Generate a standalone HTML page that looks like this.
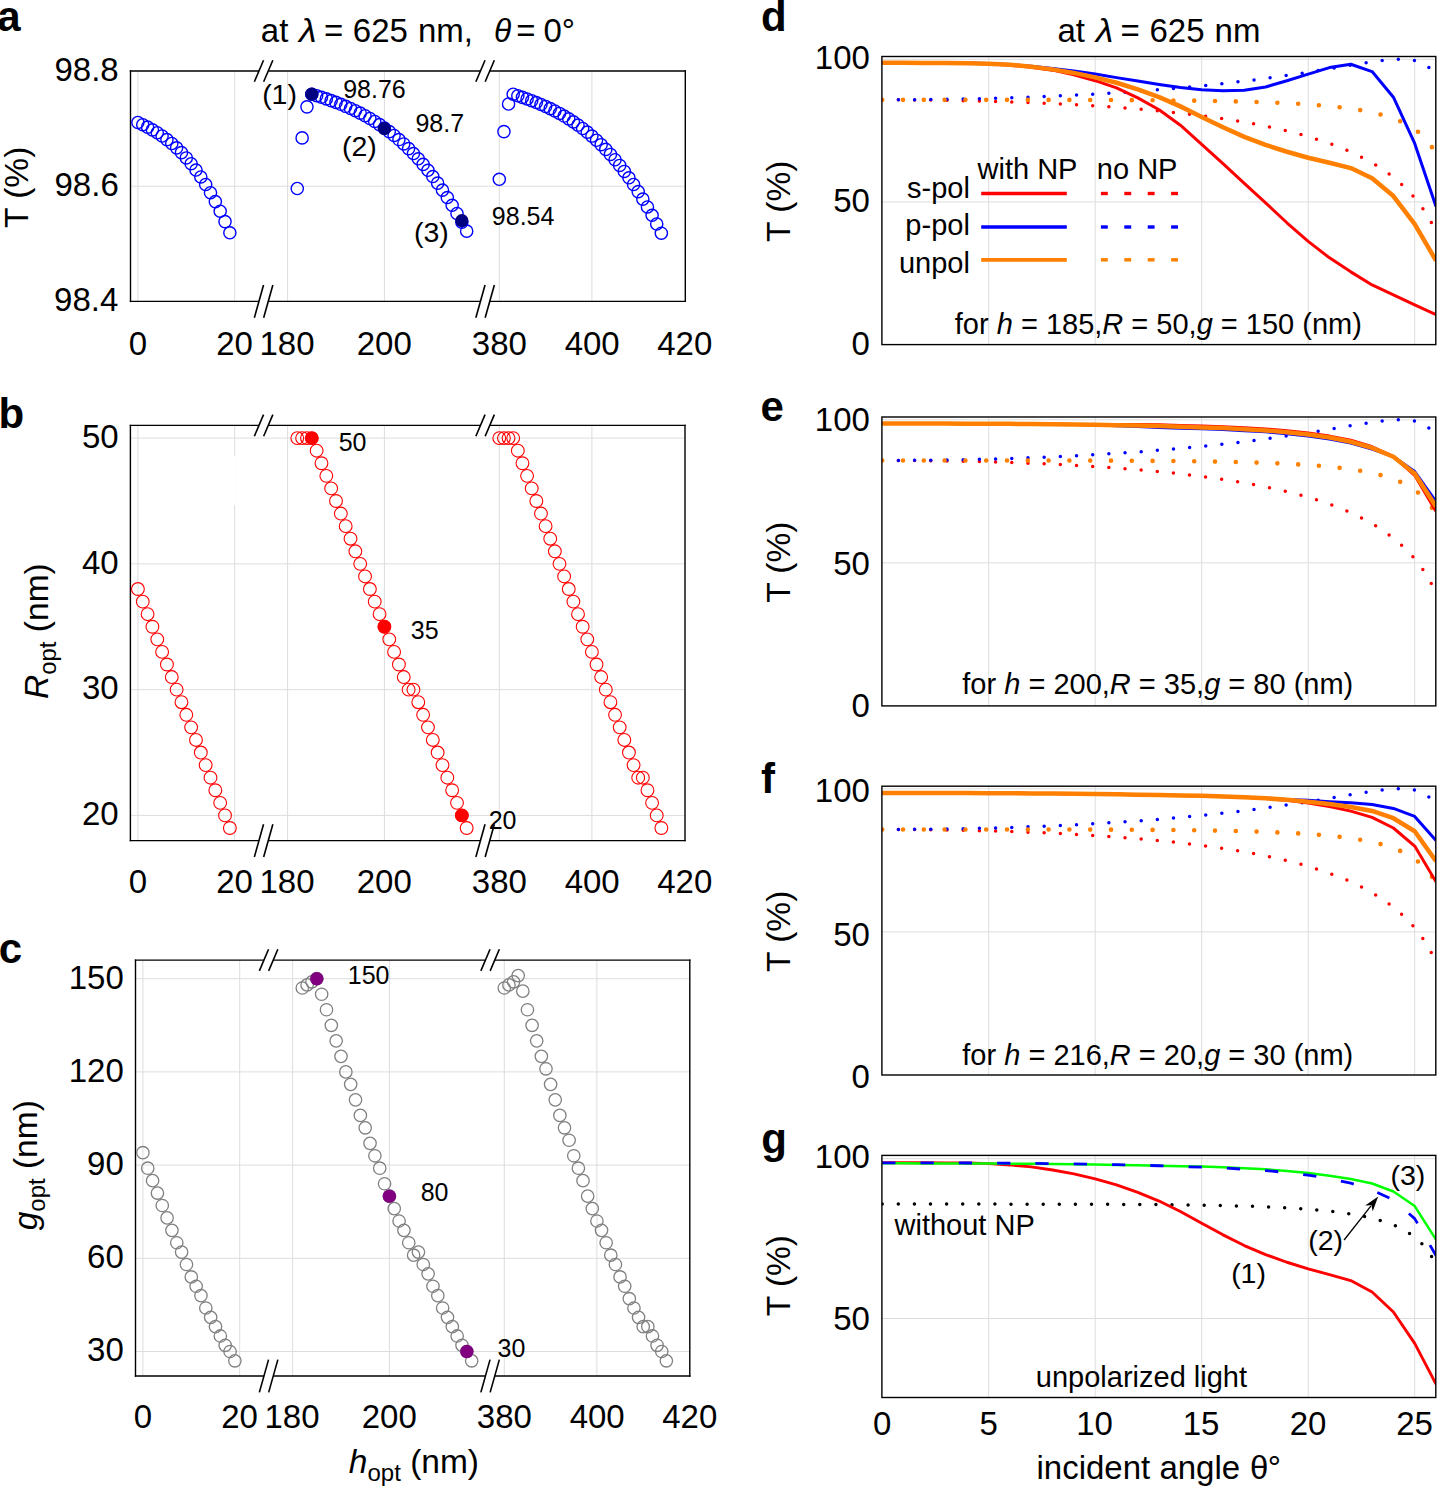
<!DOCTYPE html>
<html><head><meta charset="utf-8"><style>
html,body{margin:0;padding:0;background:#fff;overflow:hidden;}
svg{display:block;}
text{font-family:"Liberation Sans", sans-serif;}
</style></head><body>
<svg width="1437" height="1487" viewBox="0 0 1437 1487">
<rect width="1437" height="1487" fill="#fff"/>
<line x1="137.90" y1="71.00" x2="137.90" y2="301.40" stroke="#dddddd" stroke-width="1" />
<line x1="234.70" y1="71.00" x2="234.70" y2="301.40" stroke="#dddddd" stroke-width="1" />
<line x1="287.60" y1="71.00" x2="287.60" y2="301.40" stroke="#dddddd" stroke-width="1" />
<line x1="384.40" y1="71.00" x2="384.40" y2="301.40" stroke="#dddddd" stroke-width="1" />
<line x1="499.30" y1="71.00" x2="499.30" y2="301.40" stroke="#dddddd" stroke-width="1" />
<line x1="591.90" y1="71.00" x2="591.90" y2="301.40" stroke="#dddddd" stroke-width="1" />
<line x1="130.50" y1="186.20" x2="685.30" y2="186.20" stroke="#dddddd" stroke-width="1" />
<line x1="130.50" y1="70.30" x2="130.50" y2="302.10" stroke="#000" stroke-width="1.4" />
<line x1="685.30" y1="70.30" x2="685.30" y2="302.10" stroke="#000" stroke-width="1.4" />
<line x1="129.80" y1="71.00" x2="258.95" y2="71.00" stroke="#000" stroke-width="1.4" />
<line x1="268.25" y1="71.00" x2="480.45" y2="71.00" stroke="#000" stroke-width="1.4" />
<line x1="489.75" y1="71.00" x2="686.00" y2="71.00" stroke="#000" stroke-width="1.4" />
<line x1="254.35" y1="81.80" x2="263.55" y2="60.20" stroke="#000" stroke-width="1.6" />
<line x1="263.65" y1="81.80" x2="272.85" y2="60.20" stroke="#000" stroke-width="1.6" />
<line x1="475.85" y1="81.80" x2="485.05" y2="60.20" stroke="#000" stroke-width="1.6" />
<line x1="485.15" y1="81.80" x2="494.35" y2="60.20" stroke="#000" stroke-width="1.6" />
<line x1="129.80" y1="301.40" x2="258.95" y2="301.40" stroke="#000" stroke-width="1.4" />
<line x1="268.25" y1="301.40" x2="480.45" y2="301.40" stroke="#000" stroke-width="1.4" />
<line x1="489.75" y1="301.40" x2="686.00" y2="301.40" stroke="#000" stroke-width="1.4" />
<line x1="254.35" y1="317.80" x2="263.55" y2="285.00" stroke="#000" stroke-width="1.6" />
<line x1="263.65" y1="317.80" x2="272.85" y2="285.00" stroke="#000" stroke-width="1.6" />
<line x1="475.85" y1="317.80" x2="485.05" y2="285.00" stroke="#000" stroke-width="1.6" />
<line x1="485.15" y1="317.80" x2="494.35" y2="285.00" stroke="#000" stroke-width="1.6" />
<circle cx="137.90" cy="122.46" r="6.1" fill="none" stroke="#0000ff" stroke-width="1.4"/>
<circle cx="142.74" cy="124.71" r="6.1" fill="none" stroke="#0000ff" stroke-width="1.4"/>
<circle cx="147.58" cy="127.16" r="6.1" fill="none" stroke="#0000ff" stroke-width="1.4"/>
<circle cx="152.42" cy="129.84" r="6.1" fill="none" stroke="#0000ff" stroke-width="1.4"/>
<circle cx="157.26" cy="132.77" r="6.1" fill="none" stroke="#0000ff" stroke-width="1.4"/>
<circle cx="162.10" cy="136.01" r="6.1" fill="none" stroke="#0000ff" stroke-width="1.4"/>
<circle cx="166.94" cy="139.58" r="6.1" fill="none" stroke="#0000ff" stroke-width="1.4"/>
<circle cx="171.78" cy="143.52" r="6.1" fill="none" stroke="#0000ff" stroke-width="1.4"/>
<circle cx="176.62" cy="147.87" r="6.1" fill="none" stroke="#0000ff" stroke-width="1.4"/>
<circle cx="181.46" cy="152.66" r="6.1" fill="none" stroke="#0000ff" stroke-width="1.4"/>
<circle cx="186.30" cy="157.93" r="6.1" fill="none" stroke="#0000ff" stroke-width="1.4"/>
<circle cx="191.14" cy="163.71" r="6.1" fill="none" stroke="#0000ff" stroke-width="1.4"/>
<circle cx="195.98" cy="170.05" r="6.1" fill="none" stroke="#0000ff" stroke-width="1.4"/>
<circle cx="200.82" cy="176.97" r="6.1" fill="none" stroke="#0000ff" stroke-width="1.4"/>
<circle cx="205.66" cy="184.51" r="6.1" fill="none" stroke="#0000ff" stroke-width="1.4"/>
<circle cx="210.50" cy="192.71" r="6.1" fill="none" stroke="#0000ff" stroke-width="1.4"/>
<circle cx="215.34" cy="201.60" r="6.1" fill="none" stroke="#0000ff" stroke-width="1.4"/>
<circle cx="220.18" cy="211.22" r="6.1" fill="none" stroke="#0000ff" stroke-width="1.4"/>
<circle cx="225.02" cy="221.61" r="6.1" fill="none" stroke="#0000ff" stroke-width="1.4"/>
<circle cx="229.86" cy="232.80" r="6.1" fill="none" stroke="#0000ff" stroke-width="1.4"/>
<circle cx="297.28" cy="188.50" r="6.1" fill="none" stroke="#0000ff" stroke-width="1.4"/>
<circle cx="302.12" cy="137.90" r="6.1" fill="none" stroke="#0000ff" stroke-width="1.4"/>
<circle cx="306.96" cy="106.85" r="6.1" fill="none" stroke="#0000ff" stroke-width="1.4"/>
<circle cx="311.80" cy="94.20" r="6.1" fill="none" stroke="#0000ff" stroke-width="1.4"/>
<circle cx="316.64" cy="95.72" r="6.1" fill="none" stroke="#0000ff" stroke-width="1.4"/>
<circle cx="321.48" cy="97.29" r="6.1" fill="none" stroke="#0000ff" stroke-width="1.4"/>
<circle cx="326.32" cy="98.92" r="6.1" fill="none" stroke="#0000ff" stroke-width="1.4"/>
<circle cx="331.16" cy="100.63" r="6.1" fill="none" stroke="#0000ff" stroke-width="1.4"/>
<circle cx="336.00" cy="102.42" r="6.1" fill="none" stroke="#0000ff" stroke-width="1.4"/>
<circle cx="340.84" cy="104.31" r="6.1" fill="none" stroke="#0000ff" stroke-width="1.4"/>
<circle cx="345.68" cy="106.32" r="6.1" fill="none" stroke="#0000ff" stroke-width="1.4"/>
<circle cx="350.52" cy="108.45" r="6.1" fill="none" stroke="#0000ff" stroke-width="1.4"/>
<circle cx="355.36" cy="110.72" r="6.1" fill="none" stroke="#0000ff" stroke-width="1.4"/>
<circle cx="360.20" cy="113.14" r="6.1" fill="none" stroke="#0000ff" stroke-width="1.4"/>
<circle cx="365.04" cy="115.73" r="6.1" fill="none" stroke="#0000ff" stroke-width="1.4"/>
<circle cx="369.88" cy="118.50" r="6.1" fill="none" stroke="#0000ff" stroke-width="1.4"/>
<circle cx="374.72" cy="121.46" r="6.1" fill="none" stroke="#0000ff" stroke-width="1.4"/>
<circle cx="379.56" cy="124.62" r="6.1" fill="none" stroke="#0000ff" stroke-width="1.4"/>
<circle cx="384.40" cy="128.00" r="6.1" fill="none" stroke="#0000ff" stroke-width="1.4"/>
<circle cx="389.24" cy="131.60" r="6.1" fill="none" stroke="#0000ff" stroke-width="1.4"/>
<circle cx="394.08" cy="135.45" r="6.1" fill="none" stroke="#0000ff" stroke-width="1.4"/>
<circle cx="398.92" cy="139.56" r="6.1" fill="none" stroke="#0000ff" stroke-width="1.4"/>
<circle cx="403.76" cy="143.94" r="6.1" fill="none" stroke="#0000ff" stroke-width="1.4"/>
<circle cx="408.60" cy="148.59" r="6.1" fill="none" stroke="#0000ff" stroke-width="1.4"/>
<circle cx="413.44" cy="153.54" r="6.1" fill="none" stroke="#0000ff" stroke-width="1.4"/>
<circle cx="418.28" cy="158.80" r="6.1" fill="none" stroke="#0000ff" stroke-width="1.4"/>
<circle cx="423.12" cy="164.38" r="6.1" fill="none" stroke="#0000ff" stroke-width="1.4"/>
<circle cx="427.96" cy="170.29" r="6.1" fill="none" stroke="#0000ff" stroke-width="1.4"/>
<circle cx="432.80" cy="176.55" r="6.1" fill="none" stroke="#0000ff" stroke-width="1.4"/>
<circle cx="437.64" cy="183.17" r="6.1" fill="none" stroke="#0000ff" stroke-width="1.4"/>
<circle cx="442.48" cy="190.16" r="6.1" fill="none" stroke="#0000ff" stroke-width="1.4"/>
<circle cx="447.32" cy="197.53" r="6.1" fill="none" stroke="#0000ff" stroke-width="1.4"/>
<circle cx="452.16" cy="205.30" r="6.1" fill="none" stroke="#0000ff" stroke-width="1.4"/>
<circle cx="457.00" cy="213.49" r="6.1" fill="none" stroke="#0000ff" stroke-width="1.4"/>
<circle cx="461.84" cy="222.10" r="6.1" fill="none" stroke="#0000ff" stroke-width="1.4"/>
<circle cx="466.68" cy="231.14" r="6.1" fill="none" stroke="#0000ff" stroke-width="1.4"/>
<circle cx="499.30" cy="179.30" r="6.1" fill="none" stroke="#0000ff" stroke-width="1.4"/>
<circle cx="503.93" cy="131.58" r="6.1" fill="none" stroke="#0000ff" stroke-width="1.4"/>
<circle cx="508.56" cy="103.98" r="6.1" fill="none" stroke="#0000ff" stroke-width="1.4"/>
<circle cx="513.19" cy="94.20" r="6.1" fill="none" stroke="#0000ff" stroke-width="1.4"/>
<circle cx="517.82" cy="95.74" r="6.1" fill="none" stroke="#0000ff" stroke-width="1.4"/>
<circle cx="522.45" cy="97.34" r="6.1" fill="none" stroke="#0000ff" stroke-width="1.4"/>
<circle cx="527.08" cy="98.99" r="6.1" fill="none" stroke="#0000ff" stroke-width="1.4"/>
<circle cx="531.71" cy="100.72" r="6.1" fill="none" stroke="#0000ff" stroke-width="1.4"/>
<circle cx="536.34" cy="102.54" r="6.1" fill="none" stroke="#0000ff" stroke-width="1.4"/>
<circle cx="540.97" cy="104.46" r="6.1" fill="none" stroke="#0000ff" stroke-width="1.4"/>
<circle cx="545.60" cy="106.50" r="6.1" fill="none" stroke="#0000ff" stroke-width="1.4"/>
<circle cx="550.23" cy="108.66" r="6.1" fill="none" stroke="#0000ff" stroke-width="1.4"/>
<circle cx="554.86" cy="110.97" r="6.1" fill="none" stroke="#0000ff" stroke-width="1.4"/>
<circle cx="559.49" cy="113.43" r="6.1" fill="none" stroke="#0000ff" stroke-width="1.4"/>
<circle cx="564.12" cy="116.06" r="6.1" fill="none" stroke="#0000ff" stroke-width="1.4"/>
<circle cx="568.75" cy="118.86" r="6.1" fill="none" stroke="#0000ff" stroke-width="1.4"/>
<circle cx="573.38" cy="121.87" r="6.1" fill="none" stroke="#0000ff" stroke-width="1.4"/>
<circle cx="578.01" cy="125.07" r="6.1" fill="none" stroke="#0000ff" stroke-width="1.4"/>
<circle cx="582.64" cy="128.50" r="6.1" fill="none" stroke="#0000ff" stroke-width="1.4"/>
<circle cx="587.27" cy="132.17" r="6.1" fill="none" stroke="#0000ff" stroke-width="1.4"/>
<circle cx="591.90" cy="136.07" r="6.1" fill="none" stroke="#0000ff" stroke-width="1.4"/>
<circle cx="596.53" cy="140.24" r="6.1" fill="none" stroke="#0000ff" stroke-width="1.4"/>
<circle cx="601.16" cy="144.68" r="6.1" fill="none" stroke="#0000ff" stroke-width="1.4"/>
<circle cx="605.79" cy="149.41" r="6.1" fill="none" stroke="#0000ff" stroke-width="1.4"/>
<circle cx="610.42" cy="154.43" r="6.1" fill="none" stroke="#0000ff" stroke-width="1.4"/>
<circle cx="615.05" cy="159.77" r="6.1" fill="none" stroke="#0000ff" stroke-width="1.4"/>
<circle cx="619.68" cy="165.43" r="6.1" fill="none" stroke="#0000ff" stroke-width="1.4"/>
<circle cx="624.31" cy="171.43" r="6.1" fill="none" stroke="#0000ff" stroke-width="1.4"/>
<circle cx="628.94" cy="177.78" r="6.1" fill="none" stroke="#0000ff" stroke-width="1.4"/>
<circle cx="633.57" cy="184.50" r="6.1" fill="none" stroke="#0000ff" stroke-width="1.4"/>
<circle cx="638.20" cy="191.60" r="6.1" fill="none" stroke="#0000ff" stroke-width="1.4"/>
<circle cx="642.83" cy="199.08" r="6.1" fill="none" stroke="#0000ff" stroke-width="1.4"/>
<circle cx="647.46" cy="206.97" r="6.1" fill="none" stroke="#0000ff" stroke-width="1.4"/>
<circle cx="652.09" cy="215.28" r="6.1" fill="none" stroke="#0000ff" stroke-width="1.4"/>
<circle cx="656.72" cy="224.01" r="6.1" fill="none" stroke="#0000ff" stroke-width="1.4"/>
<circle cx="661.35" cy="233.19" r="6.1" fill="none" stroke="#0000ff" stroke-width="1.4"/>
<circle cx="311.80" cy="94.20" r="6.6" fill="#000080" stroke="none" stroke-width="0"/>
<circle cx="384.40" cy="128.70" r="6.6" fill="#000080" stroke="none" stroke-width="0"/>
<circle cx="461.84" cy="220.70" r="6.6" fill="#000080" stroke="none" stroke-width="0"/>
<text x="54.51" y="81.00" font-size="33" font-family='"Liberation Sans", sans-serif' font-weight="normal" font-style="normal" fill="#000" >98.8</text>
<text x="54.52" y="196.00" font-size="33" font-family='"Liberation Sans", sans-serif' font-weight="normal" font-style="normal" fill="#000" >98.6</text>
<text x="54.04" y="311.00" font-size="33" font-family='"Liberation Sans", sans-serif' font-weight="normal" font-style="normal" fill="#000" >98.4</text>
<text x="128.72" y="354.60" font-size="33" font-family='"Liberation Sans", sans-serif' font-weight="normal" font-style="normal" fill="#000" >0</text>
<text x="216.16" y="354.60" font-size="33" font-family='"Liberation Sans", sans-serif' font-weight="normal" font-style="normal" fill="#000" >20</text>
<text x="259.46" y="354.60" font-size="33" font-family='"Liberation Sans", sans-serif' font-weight="normal" font-style="normal" fill="#000" >180</text>
<text x="356.69" y="354.60" font-size="33" font-family='"Liberation Sans", sans-serif' font-weight="normal" font-style="normal" fill="#000" >200</text>
<text x="471.79" y="354.60" font-size="33" font-family='"Liberation Sans", sans-serif' font-weight="normal" font-style="normal" fill="#000" >380</text>
<text x="564.64" y="354.60" font-size="33" font-family='"Liberation Sans", sans-serif' font-weight="normal" font-style="normal" fill="#000" >400</text>
<text x="657.24" y="354.60" font-size="33" font-family='"Liberation Sans", sans-serif' font-weight="normal" font-style="normal" fill="#000" >420</text>
<text transform="translate(27.80,187.70) rotate(-90)" x="-40.27" y="0"><tspan font-size="33.5" font-family='"Liberation Sans", sans-serif' font-style="normal" dy="0">T (%)</tspan></text>
<text x="262.13" y="103.60" font-size="28.5" font-family='"Liberation Sans", sans-serif' font-weight="normal" font-style="normal" fill="#000" >(1)</text>
<text x="343.13" y="97.90" font-size="25" font-family='"Liberation Sans", sans-serif' font-weight="normal" font-style="normal" fill="#000" >98.76</text>
<text x="342.03" y="156.00" font-size="28.5" font-family='"Liberation Sans", sans-serif' font-weight="normal" font-style="normal" fill="#000" >(2)</text>
<text x="415.43" y="131.60" font-size="25" font-family='"Liberation Sans", sans-serif' font-weight="normal" font-style="normal" fill="#000" >98.7</text>
<text x="413.93" y="242.20" font-size="28.5" font-family='"Liberation Sans", sans-serif' font-weight="normal" font-style="normal" fill="#000" >(3)</text>
<text x="491.83" y="225.20" font-size="25" font-family='"Liberation Sans", sans-serif' font-weight="normal" font-style="normal" fill="#000" >98.54</text>
<text x="260.80" y="42.30" font-size="33" font-family='"Liberation Sans", sans-serif' font-weight="normal" font-style="normal" fill="#000" >at</text>
<text x="299.01" y="42.30" font-size="33" font-family='"Liberation Serif", serif' font-weight="normal" font-style="italic" fill="#000" textLength="17.6" lengthAdjust="spacingAndGlyphs">λ</text>
<text x="323.89" y="42.30" font-size="33" font-family='"Liberation Sans", sans-serif' font-weight="normal" font-style="normal" fill="#000" >=</text>
<text x="352.82" y="42.30" font-size="33" font-family='"Liberation Sans", sans-serif' font-weight="normal" font-style="normal" fill="#000" >625</text>
<text x="417.91" y="42.30" font-size="33" font-family='"Liberation Sans", sans-serif' font-weight="normal" font-style="normal" fill="#000" >nm,</text>
<text x="493.89" y="42.30" font-size="33" font-family='"Liberation Serif", serif' font-weight="normal" font-style="italic" fill="#000" textLength="17.2" lengthAdjust="spacingAndGlyphs">θ</text>
<text x="516.29" y="41.80" font-size="33" font-family='"Liberation Sans", sans-serif' font-weight="normal" font-style="normal" fill="#000" >=</text>
<text x="543.41" y="42.30" font-size="33" font-family='"Liberation Sans", sans-serif' font-weight="normal" font-style="normal" fill="#000" >0°</text>
<text x="-2.73" y="30.70" font-size="42" font-family='"Liberation Sans", sans-serif' font-weight="bold" font-style="normal" fill="#000" >a</text>
<line x1="137.90" y1="425.40" x2="137.90" y2="840.60" stroke="#dddddd" stroke-width="1" />
<line x1="234.70" y1="425.40" x2="234.70" y2="840.60" stroke="#dddddd" stroke-width="1" />
<line x1="287.60" y1="425.40" x2="287.60" y2="840.60" stroke="#dddddd" stroke-width="1" />
<line x1="384.40" y1="425.40" x2="384.40" y2="840.60" stroke="#dddddd" stroke-width="1" />
<line x1="499.30" y1="425.40" x2="499.30" y2="840.60" stroke="#dddddd" stroke-width="1" />
<line x1="591.90" y1="425.40" x2="591.90" y2="840.60" stroke="#dddddd" stroke-width="1" />
<rect x="233.70" y="456.3" width="2" height="48.6" fill="#fff"/>
<line x1="130.40" y1="438.10" x2="685.00" y2="438.10" stroke="#dddddd" stroke-width="1" />
<line x1="130.40" y1="563.87" x2="685.00" y2="563.87" stroke="#dddddd" stroke-width="1" />
<line x1="130.40" y1="689.64" x2="685.00" y2="689.64" stroke="#dddddd" stroke-width="1" />
<line x1="130.40" y1="815.41" x2="685.00" y2="815.41" stroke="#dddddd" stroke-width="1" />
<line x1="130.40" y1="424.70" x2="130.40" y2="841.30" stroke="#000" stroke-width="1.4" />
<line x1="685.00" y1="424.70" x2="685.00" y2="841.30" stroke="#000" stroke-width="1.4" />
<line x1="129.70" y1="425.40" x2="258.95" y2="425.40" stroke="#000" stroke-width="1.4" />
<line x1="268.25" y1="425.40" x2="480.45" y2="425.40" stroke="#000" stroke-width="1.4" />
<line x1="489.75" y1="425.40" x2="685.70" y2="425.40" stroke="#000" stroke-width="1.4" />
<line x1="254.35" y1="436.20" x2="263.55" y2="414.60" stroke="#000" stroke-width="1.6" />
<line x1="263.65" y1="436.20" x2="272.85" y2="414.60" stroke="#000" stroke-width="1.6" />
<line x1="475.85" y1="436.20" x2="485.05" y2="414.60" stroke="#000" stroke-width="1.6" />
<line x1="485.15" y1="436.20" x2="494.35" y2="414.60" stroke="#000" stroke-width="1.6" />
<line x1="129.70" y1="840.60" x2="258.95" y2="840.60" stroke="#000" stroke-width="1.4" />
<line x1="268.25" y1="840.60" x2="480.45" y2="840.60" stroke="#000" stroke-width="1.4" />
<line x1="489.75" y1="840.60" x2="685.70" y2="840.60" stroke="#000" stroke-width="1.4" />
<line x1="254.35" y1="857.00" x2="263.55" y2="824.20" stroke="#000" stroke-width="1.6" />
<line x1="263.65" y1="857.00" x2="272.85" y2="824.20" stroke="#000" stroke-width="1.6" />
<line x1="475.85" y1="857.00" x2="485.05" y2="824.20" stroke="#000" stroke-width="1.6" />
<line x1="485.15" y1="857.00" x2="494.35" y2="824.20" stroke="#000" stroke-width="1.6" />
<circle cx="137.90" cy="589.02" r="6.4" fill="none" stroke="#ff0000" stroke-width="1.1"/>
<circle cx="142.74" cy="601.60" r="6.4" fill="none" stroke="#ff0000" stroke-width="1.1"/>
<circle cx="147.58" cy="614.18" r="6.4" fill="none" stroke="#ff0000" stroke-width="1.1"/>
<circle cx="152.42" cy="626.75" r="6.4" fill="none" stroke="#ff0000" stroke-width="1.1"/>
<circle cx="157.26" cy="639.33" r="6.4" fill="none" stroke="#ff0000" stroke-width="1.1"/>
<circle cx="162.10" cy="651.91" r="6.4" fill="none" stroke="#ff0000" stroke-width="1.1"/>
<circle cx="166.94" cy="664.49" r="6.4" fill="none" stroke="#ff0000" stroke-width="1.1"/>
<circle cx="171.78" cy="677.06" r="6.4" fill="none" stroke="#ff0000" stroke-width="1.1"/>
<circle cx="176.62" cy="689.64" r="6.4" fill="none" stroke="#ff0000" stroke-width="1.1"/>
<circle cx="181.46" cy="702.22" r="6.4" fill="none" stroke="#ff0000" stroke-width="1.1"/>
<circle cx="186.30" cy="714.79" r="6.4" fill="none" stroke="#ff0000" stroke-width="1.1"/>
<circle cx="191.14" cy="727.37" r="6.4" fill="none" stroke="#ff0000" stroke-width="1.1"/>
<circle cx="195.98" cy="739.95" r="6.4" fill="none" stroke="#ff0000" stroke-width="1.1"/>
<circle cx="200.82" cy="752.53" r="6.4" fill="none" stroke="#ff0000" stroke-width="1.1"/>
<circle cx="205.66" cy="765.10" r="6.4" fill="none" stroke="#ff0000" stroke-width="1.1"/>
<circle cx="210.50" cy="777.68" r="6.4" fill="none" stroke="#ff0000" stroke-width="1.1"/>
<circle cx="215.34" cy="790.26" r="6.4" fill="none" stroke="#ff0000" stroke-width="1.1"/>
<circle cx="220.18" cy="802.83" r="6.4" fill="none" stroke="#ff0000" stroke-width="1.1"/>
<circle cx="225.02" cy="815.41" r="6.4" fill="none" stroke="#ff0000" stroke-width="1.1"/>
<circle cx="229.86" cy="827.99" r="6.4" fill="none" stroke="#ff0000" stroke-width="1.1"/>
<circle cx="297.28" cy="438.10" r="6.4" fill="none" stroke="#ff0000" stroke-width="1.1"/>
<circle cx="302.12" cy="438.10" r="6.4" fill="none" stroke="#ff0000" stroke-width="1.1"/>
<circle cx="306.96" cy="438.10" r="6.4" fill="none" stroke="#ff0000" stroke-width="1.1"/>
<circle cx="311.80" cy="438.10" r="6.4" fill="none" stroke="#ff0000" stroke-width="1.1"/>
<circle cx="316.64" cy="450.68" r="6.4" fill="none" stroke="#ff0000" stroke-width="1.1"/>
<circle cx="321.48" cy="463.25" r="6.4" fill="none" stroke="#ff0000" stroke-width="1.1"/>
<circle cx="326.32" cy="475.83" r="6.4" fill="none" stroke="#ff0000" stroke-width="1.1"/>
<circle cx="331.16" cy="488.41" r="6.4" fill="none" stroke="#ff0000" stroke-width="1.1"/>
<circle cx="336.00" cy="500.99" r="6.4" fill="none" stroke="#ff0000" stroke-width="1.1"/>
<circle cx="340.84" cy="513.56" r="6.4" fill="none" stroke="#ff0000" stroke-width="1.1"/>
<circle cx="345.68" cy="526.14" r="6.4" fill="none" stroke="#ff0000" stroke-width="1.1"/>
<circle cx="350.52" cy="538.72" r="6.4" fill="none" stroke="#ff0000" stroke-width="1.1"/>
<circle cx="355.36" cy="551.29" r="6.4" fill="none" stroke="#ff0000" stroke-width="1.1"/>
<circle cx="360.20" cy="563.87" r="6.4" fill="none" stroke="#ff0000" stroke-width="1.1"/>
<circle cx="365.04" cy="576.45" r="6.4" fill="none" stroke="#ff0000" stroke-width="1.1"/>
<circle cx="369.88" cy="589.02" r="6.4" fill="none" stroke="#ff0000" stroke-width="1.1"/>
<circle cx="374.72" cy="601.60" r="6.4" fill="none" stroke="#ff0000" stroke-width="1.1"/>
<circle cx="379.56" cy="614.18" r="6.4" fill="none" stroke="#ff0000" stroke-width="1.1"/>
<circle cx="384.40" cy="626.75" r="6.4" fill="none" stroke="#ff0000" stroke-width="1.1"/>
<circle cx="389.24" cy="639.33" r="6.4" fill="none" stroke="#ff0000" stroke-width="1.1"/>
<circle cx="394.08" cy="651.91" r="6.4" fill="none" stroke="#ff0000" stroke-width="1.1"/>
<circle cx="398.92" cy="664.49" r="6.4" fill="none" stroke="#ff0000" stroke-width="1.1"/>
<circle cx="403.76" cy="677.06" r="6.4" fill="none" stroke="#ff0000" stroke-width="1.1"/>
<circle cx="408.60" cy="689.64" r="6.4" fill="none" stroke="#ff0000" stroke-width="1.1"/>
<circle cx="413.44" cy="689.64" r="6.4" fill="none" stroke="#ff0000" stroke-width="1.1"/>
<circle cx="418.28" cy="702.22" r="6.4" fill="none" stroke="#ff0000" stroke-width="1.1"/>
<circle cx="423.12" cy="714.79" r="6.4" fill="none" stroke="#ff0000" stroke-width="1.1"/>
<circle cx="427.96" cy="727.37" r="6.4" fill="none" stroke="#ff0000" stroke-width="1.1"/>
<circle cx="432.80" cy="739.95" r="6.4" fill="none" stroke="#ff0000" stroke-width="1.1"/>
<circle cx="437.64" cy="752.53" r="6.4" fill="none" stroke="#ff0000" stroke-width="1.1"/>
<circle cx="442.48" cy="765.10" r="6.4" fill="none" stroke="#ff0000" stroke-width="1.1"/>
<circle cx="447.32" cy="777.68" r="6.4" fill="none" stroke="#ff0000" stroke-width="1.1"/>
<circle cx="452.16" cy="790.26" r="6.4" fill="none" stroke="#ff0000" stroke-width="1.1"/>
<circle cx="457.00" cy="802.83" r="6.4" fill="none" stroke="#ff0000" stroke-width="1.1"/>
<circle cx="461.84" cy="815.41" r="6.4" fill="none" stroke="#ff0000" stroke-width="1.1"/>
<circle cx="466.68" cy="827.99" r="6.4" fill="none" stroke="#ff0000" stroke-width="1.1"/>
<circle cx="499.30" cy="438.10" r="6.4" fill="none" stroke="#ff0000" stroke-width="1.1"/>
<circle cx="503.93" cy="438.10" r="6.4" fill="none" stroke="#ff0000" stroke-width="1.1"/>
<circle cx="508.56" cy="438.10" r="6.4" fill="none" stroke="#ff0000" stroke-width="1.1"/>
<circle cx="513.19" cy="438.10" r="6.4" fill="none" stroke="#ff0000" stroke-width="1.1"/>
<circle cx="517.82" cy="450.68" r="6.4" fill="none" stroke="#ff0000" stroke-width="1.1"/>
<circle cx="522.45" cy="463.25" r="6.4" fill="none" stroke="#ff0000" stroke-width="1.1"/>
<circle cx="527.08" cy="475.83" r="6.4" fill="none" stroke="#ff0000" stroke-width="1.1"/>
<circle cx="531.71" cy="488.41" r="6.4" fill="none" stroke="#ff0000" stroke-width="1.1"/>
<circle cx="536.34" cy="500.99" r="6.4" fill="none" stroke="#ff0000" stroke-width="1.1"/>
<circle cx="540.97" cy="513.56" r="6.4" fill="none" stroke="#ff0000" stroke-width="1.1"/>
<circle cx="545.60" cy="526.14" r="6.4" fill="none" stroke="#ff0000" stroke-width="1.1"/>
<circle cx="550.23" cy="538.72" r="6.4" fill="none" stroke="#ff0000" stroke-width="1.1"/>
<circle cx="554.86" cy="551.29" r="6.4" fill="none" stroke="#ff0000" stroke-width="1.1"/>
<circle cx="559.49" cy="563.87" r="6.4" fill="none" stroke="#ff0000" stroke-width="1.1"/>
<circle cx="564.12" cy="576.45" r="6.4" fill="none" stroke="#ff0000" stroke-width="1.1"/>
<circle cx="568.75" cy="589.02" r="6.4" fill="none" stroke="#ff0000" stroke-width="1.1"/>
<circle cx="573.38" cy="601.60" r="6.4" fill="none" stroke="#ff0000" stroke-width="1.1"/>
<circle cx="578.01" cy="614.18" r="6.4" fill="none" stroke="#ff0000" stroke-width="1.1"/>
<circle cx="582.64" cy="626.75" r="6.4" fill="none" stroke="#ff0000" stroke-width="1.1"/>
<circle cx="587.27" cy="639.33" r="6.4" fill="none" stroke="#ff0000" stroke-width="1.1"/>
<circle cx="591.90" cy="651.91" r="6.4" fill="none" stroke="#ff0000" stroke-width="1.1"/>
<circle cx="596.53" cy="664.49" r="6.4" fill="none" stroke="#ff0000" stroke-width="1.1"/>
<circle cx="601.16" cy="677.06" r="6.4" fill="none" stroke="#ff0000" stroke-width="1.1"/>
<circle cx="605.79" cy="689.64" r="6.4" fill="none" stroke="#ff0000" stroke-width="1.1"/>
<circle cx="610.42" cy="702.22" r="6.4" fill="none" stroke="#ff0000" stroke-width="1.1"/>
<circle cx="615.05" cy="714.79" r="6.4" fill="none" stroke="#ff0000" stroke-width="1.1"/>
<circle cx="619.68" cy="727.37" r="6.4" fill="none" stroke="#ff0000" stroke-width="1.1"/>
<circle cx="624.31" cy="739.95" r="6.4" fill="none" stroke="#ff0000" stroke-width="1.1"/>
<circle cx="628.94" cy="752.53" r="6.4" fill="none" stroke="#ff0000" stroke-width="1.1"/>
<circle cx="633.57" cy="765.10" r="6.4" fill="none" stroke="#ff0000" stroke-width="1.1"/>
<circle cx="638.20" cy="777.68" r="6.4" fill="none" stroke="#ff0000" stroke-width="1.1"/>
<circle cx="642.83" cy="777.68" r="6.4" fill="none" stroke="#ff0000" stroke-width="1.1"/>
<circle cx="647.46" cy="790.26" r="6.4" fill="none" stroke="#ff0000" stroke-width="1.1"/>
<circle cx="652.09" cy="802.83" r="6.4" fill="none" stroke="#ff0000" stroke-width="1.1"/>
<circle cx="656.72" cy="815.41" r="6.4" fill="none" stroke="#ff0000" stroke-width="1.1"/>
<circle cx="661.35" cy="827.99" r="6.4" fill="none" stroke="#ff0000" stroke-width="1.1"/>
<circle cx="311.80" cy="438.10" r="6.7" fill="#ff0000" stroke="none" stroke-width="0"/>
<circle cx="384.40" cy="626.75" r="6.7" fill="#ff0000" stroke="none" stroke-width="0"/>
<circle cx="461.84" cy="815.41" r="6.7" fill="#ff0000" stroke="none" stroke-width="0"/>
<text x="81.88" y="447.90" font-size="33" font-family='"Liberation Sans", sans-serif' font-weight="normal" font-style="normal" fill="#000" >50</text>
<text x="81.88" y="573.67" font-size="33" font-family='"Liberation Sans", sans-serif' font-weight="normal" font-style="normal" fill="#000" >40</text>
<text x="81.88" y="699.44" font-size="33" font-family='"Liberation Sans", sans-serif' font-weight="normal" font-style="normal" fill="#000" >30</text>
<text x="81.88" y="825.21" font-size="33" font-family='"Liberation Sans", sans-serif' font-weight="normal" font-style="normal" fill="#000" >20</text>
<text x="128.72" y="893.10" font-size="33" font-family='"Liberation Sans", sans-serif' font-weight="normal" font-style="normal" fill="#000" >0</text>
<text x="216.16" y="893.10" font-size="33" font-family='"Liberation Sans", sans-serif' font-weight="normal" font-style="normal" fill="#000" >20</text>
<text x="259.46" y="893.10" font-size="33" font-family='"Liberation Sans", sans-serif' font-weight="normal" font-style="normal" fill="#000" >180</text>
<text x="356.69" y="893.10" font-size="33" font-family='"Liberation Sans", sans-serif' font-weight="normal" font-style="normal" fill="#000" >200</text>
<text x="471.79" y="893.10" font-size="33" font-family='"Liberation Sans", sans-serif' font-weight="normal" font-style="normal" fill="#000" >380</text>
<text x="564.64" y="893.10" font-size="33" font-family='"Liberation Sans", sans-serif' font-weight="normal" font-style="normal" fill="#000" >400</text>
<text x="657.24" y="893.10" font-size="33" font-family='"Liberation Sans", sans-serif' font-weight="normal" font-style="normal" fill="#000" >420</text>
<text transform="translate(47.90,631.70) rotate(-90)" x="-67.33" y="0"><tspan font-size="33.5" font-family='"Liberation Sans", sans-serif' font-style="italic" dy="0">R</tspan><tspan font-size="24" font-family='"Liberation Sans", sans-serif' font-style="normal" dy="8">opt</tspan><tspan font-size="33.5" font-family='"Liberation Sans", sans-serif' font-style="normal" dy="-8"> (nm)</tspan></text>
<text x="338.70" y="450.90" font-size="25" font-family='"Liberation Sans", sans-serif' font-weight="normal" font-style="normal" fill="#000" >50</text>
<text x="410.85" y="639.30" font-size="25" font-family='"Liberation Sans", sans-serif' font-weight="normal" font-style="normal" fill="#000" >35</text>
<text x="488.64" y="828.80" font-size="25" font-family='"Liberation Sans", sans-serif' font-weight="normal" font-style="normal" fill="#000" >20</text>
<text x="-1.47" y="428.30" font-size="42" font-family='"Liberation Sans", sans-serif' font-weight="bold" font-style="normal" fill="#000" >b</text>
<line x1="142.90" y1="960.10" x2="142.90" y2="1376.00" stroke="#dddddd" stroke-width="1" />
<line x1="239.70" y1="960.10" x2="239.70" y2="1376.00" stroke="#dddddd" stroke-width="1" />
<line x1="292.60" y1="960.10" x2="292.60" y2="1376.00" stroke="#dddddd" stroke-width="1" />
<line x1="389.40" y1="960.10" x2="389.40" y2="1376.00" stroke="#dddddd" stroke-width="1" />
<line x1="504.30" y1="960.10" x2="504.30" y2="1376.00" stroke="#dddddd" stroke-width="1" />
<line x1="596.90" y1="960.10" x2="596.90" y2="1376.00" stroke="#dddddd" stroke-width="1" />
<line x1="135.50" y1="978.70" x2="689.80" y2="978.70" stroke="#dddddd" stroke-width="1" />
<line x1="135.50" y1="1071.90" x2="689.80" y2="1071.90" stroke="#dddddd" stroke-width="1" />
<line x1="135.50" y1="1165.10" x2="689.80" y2="1165.10" stroke="#dddddd" stroke-width="1" />
<line x1="135.50" y1="1258.30" x2="689.80" y2="1258.30" stroke="#dddddd" stroke-width="1" />
<line x1="135.50" y1="1351.50" x2="689.80" y2="1351.50" stroke="#dddddd" stroke-width="1" />
<line x1="135.50" y1="959.40" x2="135.50" y2="1376.70" stroke="#000" stroke-width="1.4" />
<line x1="689.80" y1="959.40" x2="689.80" y2="1376.70" stroke="#000" stroke-width="1.4" />
<line x1="134.80" y1="960.10" x2="263.95" y2="960.10" stroke="#000" stroke-width="1.4" />
<line x1="273.25" y1="960.10" x2="485.45" y2="960.10" stroke="#000" stroke-width="1.4" />
<line x1="494.75" y1="960.10" x2="690.50" y2="960.10" stroke="#000" stroke-width="1.4" />
<line x1="259.35" y1="970.90" x2="268.55" y2="949.30" stroke="#000" stroke-width="1.6" />
<line x1="268.65" y1="970.90" x2="277.85" y2="949.30" stroke="#000" stroke-width="1.6" />
<line x1="480.85" y1="970.90" x2="490.05" y2="949.30" stroke="#000" stroke-width="1.6" />
<line x1="490.15" y1="970.90" x2="499.35" y2="949.30" stroke="#000" stroke-width="1.6" />
<line x1="134.80" y1="1376.00" x2="263.95" y2="1376.00" stroke="#000" stroke-width="1.4" />
<line x1="273.25" y1="1376.00" x2="485.45" y2="1376.00" stroke="#000" stroke-width="1.4" />
<line x1="494.75" y1="1376.00" x2="690.50" y2="1376.00" stroke="#000" stroke-width="1.4" />
<line x1="259.35" y1="1392.40" x2="268.55" y2="1359.60" stroke="#000" stroke-width="1.6" />
<line x1="268.65" y1="1392.40" x2="277.85" y2="1359.60" stroke="#000" stroke-width="1.6" />
<line x1="480.85" y1="1392.40" x2="490.05" y2="1359.60" stroke="#000" stroke-width="1.6" />
<line x1="490.15" y1="1392.40" x2="499.35" y2="1359.60" stroke="#000" stroke-width="1.6" />
<circle cx="142.90" cy="1152.68" r="6.2" fill="none" stroke="#808080" stroke-width="1.3"/>
<circle cx="147.74" cy="1168.21" r="6.2" fill="none" stroke="#808080" stroke-width="1.3"/>
<circle cx="152.58" cy="1180.64" r="6.2" fill="none" stroke="#808080" stroke-width="1.3"/>
<circle cx="157.42" cy="1193.06" r="6.2" fill="none" stroke="#808080" stroke-width="1.3"/>
<circle cx="162.26" cy="1205.49" r="6.2" fill="none" stroke="#808080" stroke-width="1.3"/>
<circle cx="167.10" cy="1217.92" r="6.2" fill="none" stroke="#808080" stroke-width="1.3"/>
<circle cx="171.94" cy="1230.34" r="6.2" fill="none" stroke="#808080" stroke-width="1.3"/>
<circle cx="176.78" cy="1242.77" r="6.2" fill="none" stroke="#808080" stroke-width="1.3"/>
<circle cx="181.62" cy="1252.09" r="6.2" fill="none" stroke="#808080" stroke-width="1.3"/>
<circle cx="186.46" cy="1264.52" r="6.2" fill="none" stroke="#808080" stroke-width="1.3"/>
<circle cx="191.30" cy="1276.94" r="6.2" fill="none" stroke="#808080" stroke-width="1.3"/>
<circle cx="196.14" cy="1286.26" r="6.2" fill="none" stroke="#808080" stroke-width="1.3"/>
<circle cx="200.98" cy="1295.58" r="6.2" fill="none" stroke="#808080" stroke-width="1.3"/>
<circle cx="205.82" cy="1308.01" r="6.2" fill="none" stroke="#808080" stroke-width="1.3"/>
<circle cx="210.66" cy="1317.33" r="6.2" fill="none" stroke="#808080" stroke-width="1.3"/>
<circle cx="215.50" cy="1326.65" r="6.2" fill="none" stroke="#808080" stroke-width="1.3"/>
<circle cx="220.34" cy="1335.97" r="6.2" fill="none" stroke="#808080" stroke-width="1.3"/>
<circle cx="225.18" cy="1345.29" r="6.2" fill="none" stroke="#808080" stroke-width="1.3"/>
<circle cx="230.02" cy="1351.50" r="6.2" fill="none" stroke="#808080" stroke-width="1.3"/>
<circle cx="234.86" cy="1360.82" r="6.2" fill="none" stroke="#808080" stroke-width="1.3"/>
<circle cx="302.28" cy="988.02" r="6.2" fill="none" stroke="#808080" stroke-width="1.3"/>
<circle cx="307.12" cy="984.91" r="6.2" fill="none" stroke="#808080" stroke-width="1.3"/>
<circle cx="311.96" cy="981.81" r="6.2" fill="none" stroke="#808080" stroke-width="1.3"/>
<circle cx="316.80" cy="978.70" r="6.2" fill="none" stroke="#808080" stroke-width="1.3"/>
<circle cx="321.64" cy="994.23" r="6.2" fill="none" stroke="#808080" stroke-width="1.3"/>
<circle cx="326.48" cy="1009.77" r="6.2" fill="none" stroke="#808080" stroke-width="1.3"/>
<circle cx="331.32" cy="1025.30" r="6.2" fill="none" stroke="#808080" stroke-width="1.3"/>
<circle cx="336.16" cy="1040.83" r="6.2" fill="none" stroke="#808080" stroke-width="1.3"/>
<circle cx="341.00" cy="1056.37" r="6.2" fill="none" stroke="#808080" stroke-width="1.3"/>
<circle cx="345.84" cy="1071.90" r="6.2" fill="none" stroke="#808080" stroke-width="1.3"/>
<circle cx="350.68" cy="1084.33" r="6.2" fill="none" stroke="#808080" stroke-width="1.3"/>
<circle cx="355.52" cy="1099.86" r="6.2" fill="none" stroke="#808080" stroke-width="1.3"/>
<circle cx="360.36" cy="1115.39" r="6.2" fill="none" stroke="#808080" stroke-width="1.3"/>
<circle cx="365.20" cy="1127.82" r="6.2" fill="none" stroke="#808080" stroke-width="1.3"/>
<circle cx="370.04" cy="1143.36" r="6.2" fill="none" stroke="#808080" stroke-width="1.3"/>
<circle cx="374.88" cy="1155.78" r="6.2" fill="none" stroke="#808080" stroke-width="1.3"/>
<circle cx="379.72" cy="1168.21" r="6.2" fill="none" stroke="#808080" stroke-width="1.3"/>
<circle cx="384.56" cy="1183.74" r="6.2" fill="none" stroke="#808080" stroke-width="1.3"/>
<circle cx="389.40" cy="1196.17" r="6.2" fill="none" stroke="#808080" stroke-width="1.3"/>
<circle cx="394.24" cy="1208.60" r="6.2" fill="none" stroke="#808080" stroke-width="1.3"/>
<circle cx="399.08" cy="1221.02" r="6.2" fill="none" stroke="#808080" stroke-width="1.3"/>
<circle cx="403.92" cy="1230.34" r="6.2" fill="none" stroke="#808080" stroke-width="1.3"/>
<circle cx="408.76" cy="1242.77" r="6.2" fill="none" stroke="#808080" stroke-width="1.3"/>
<circle cx="413.60" cy="1255.20" r="6.2" fill="none" stroke="#808080" stroke-width="1.3"/>
<circle cx="418.44" cy="1252.09" r="6.2" fill="none" stroke="#808080" stroke-width="1.3"/>
<circle cx="423.28" cy="1264.52" r="6.2" fill="none" stroke="#808080" stroke-width="1.3"/>
<circle cx="428.12" cy="1273.84" r="6.2" fill="none" stroke="#808080" stroke-width="1.3"/>
<circle cx="432.96" cy="1286.26" r="6.2" fill="none" stroke="#808080" stroke-width="1.3"/>
<circle cx="437.80" cy="1295.58" r="6.2" fill="none" stroke="#808080" stroke-width="1.3"/>
<circle cx="442.64" cy="1308.01" r="6.2" fill="none" stroke="#808080" stroke-width="1.3"/>
<circle cx="447.48" cy="1317.33" r="6.2" fill="none" stroke="#808080" stroke-width="1.3"/>
<circle cx="452.32" cy="1326.65" r="6.2" fill="none" stroke="#808080" stroke-width="1.3"/>
<circle cx="457.16" cy="1335.97" r="6.2" fill="none" stroke="#808080" stroke-width="1.3"/>
<circle cx="462.00" cy="1345.29" r="6.2" fill="none" stroke="#808080" stroke-width="1.3"/>
<circle cx="466.84" cy="1351.50" r="6.2" fill="none" stroke="#808080" stroke-width="1.3"/>
<circle cx="471.68" cy="1360.82" r="6.2" fill="none" stroke="#808080" stroke-width="1.3"/>
<circle cx="504.30" cy="988.02" r="6.2" fill="none" stroke="#808080" stroke-width="1.3"/>
<circle cx="508.93" cy="984.91" r="6.2" fill="none" stroke="#808080" stroke-width="1.3"/>
<circle cx="513.56" cy="981.81" r="6.2" fill="none" stroke="#808080" stroke-width="1.3"/>
<circle cx="518.19" cy="975.59" r="6.2" fill="none" stroke="#808080" stroke-width="1.3"/>
<circle cx="522.82" cy="991.13" r="6.2" fill="none" stroke="#808080" stroke-width="1.3"/>
<circle cx="527.45" cy="1009.77" r="6.2" fill="none" stroke="#808080" stroke-width="1.3"/>
<circle cx="532.08" cy="1025.30" r="6.2" fill="none" stroke="#808080" stroke-width="1.3"/>
<circle cx="536.71" cy="1040.83" r="6.2" fill="none" stroke="#808080" stroke-width="1.3"/>
<circle cx="541.34" cy="1056.37" r="6.2" fill="none" stroke="#808080" stroke-width="1.3"/>
<circle cx="545.97" cy="1068.79" r="6.2" fill="none" stroke="#808080" stroke-width="1.3"/>
<circle cx="550.60" cy="1084.33" r="6.2" fill="none" stroke="#808080" stroke-width="1.3"/>
<circle cx="555.23" cy="1099.86" r="6.2" fill="none" stroke="#808080" stroke-width="1.3"/>
<circle cx="559.86" cy="1115.39" r="6.2" fill="none" stroke="#808080" stroke-width="1.3"/>
<circle cx="564.49" cy="1127.82" r="6.2" fill="none" stroke="#808080" stroke-width="1.3"/>
<circle cx="569.12" cy="1140.25" r="6.2" fill="none" stroke="#808080" stroke-width="1.3"/>
<circle cx="573.75" cy="1155.78" r="6.2" fill="none" stroke="#808080" stroke-width="1.3"/>
<circle cx="578.38" cy="1168.21" r="6.2" fill="none" stroke="#808080" stroke-width="1.3"/>
<circle cx="583.01" cy="1180.64" r="6.2" fill="none" stroke="#808080" stroke-width="1.3"/>
<circle cx="587.64" cy="1196.17" r="6.2" fill="none" stroke="#808080" stroke-width="1.3"/>
<circle cx="592.27" cy="1208.60" r="6.2" fill="none" stroke="#808080" stroke-width="1.3"/>
<circle cx="596.90" cy="1221.02" r="6.2" fill="none" stroke="#808080" stroke-width="1.3"/>
<circle cx="601.53" cy="1230.34" r="6.2" fill="none" stroke="#808080" stroke-width="1.3"/>
<circle cx="606.16" cy="1242.77" r="6.2" fill="none" stroke="#808080" stroke-width="1.3"/>
<circle cx="610.79" cy="1255.20" r="6.2" fill="none" stroke="#808080" stroke-width="1.3"/>
<circle cx="615.42" cy="1264.52" r="6.2" fill="none" stroke="#808080" stroke-width="1.3"/>
<circle cx="620.05" cy="1276.94" r="6.2" fill="none" stroke="#808080" stroke-width="1.3"/>
<circle cx="624.68" cy="1286.26" r="6.2" fill="none" stroke="#808080" stroke-width="1.3"/>
<circle cx="629.31" cy="1298.69" r="6.2" fill="none" stroke="#808080" stroke-width="1.3"/>
<circle cx="633.94" cy="1308.01" r="6.2" fill="none" stroke="#808080" stroke-width="1.3"/>
<circle cx="638.57" cy="1317.33" r="6.2" fill="none" stroke="#808080" stroke-width="1.3"/>
<circle cx="643.20" cy="1326.65" r="6.2" fill="none" stroke="#808080" stroke-width="1.3"/>
<circle cx="647.83" cy="1326.65" r="6.2" fill="none" stroke="#808080" stroke-width="1.3"/>
<circle cx="652.46" cy="1335.97" r="6.2" fill="none" stroke="#808080" stroke-width="1.3"/>
<circle cx="657.09" cy="1345.29" r="6.2" fill="none" stroke="#808080" stroke-width="1.3"/>
<circle cx="661.72" cy="1351.50" r="6.2" fill="none" stroke="#808080" stroke-width="1.3"/>
<circle cx="666.35" cy="1360.82" r="6.2" fill="none" stroke="#808080" stroke-width="1.3"/>
<circle cx="316.80" cy="978.70" r="6.7" fill="#800080" stroke="none" stroke-width="0"/>
<circle cx="389.40" cy="1196.17" r="6.7" fill="#800080" stroke="none" stroke-width="0"/>
<circle cx="466.84" cy="1351.50" r="6.7" fill="#800080" stroke="none" stroke-width="0"/>
<text x="68.73" y="988.50" font-size="33" font-family='"Liberation Sans", sans-serif' font-weight="normal" font-style="normal" fill="#000" >150</text>
<text x="68.73" y="1081.70" font-size="33" font-family='"Liberation Sans", sans-serif' font-weight="normal" font-style="normal" fill="#000" >120</text>
<text x="87.08" y="1174.90" font-size="33" font-family='"Liberation Sans", sans-serif' font-weight="normal" font-style="normal" fill="#000" >90</text>
<text x="87.08" y="1268.10" font-size="33" font-family='"Liberation Sans", sans-serif' font-weight="normal" font-style="normal" fill="#000" >60</text>
<text x="87.08" y="1361.30" font-size="33" font-family='"Liberation Sans", sans-serif' font-weight="normal" font-style="normal" fill="#000" >30</text>
<text x="133.72" y="1428.10" font-size="33" font-family='"Liberation Sans", sans-serif' font-weight="normal" font-style="normal" fill="#000" >0</text>
<text x="221.16" y="1428.10" font-size="33" font-family='"Liberation Sans", sans-serif' font-weight="normal" font-style="normal" fill="#000" >20</text>
<text x="264.46" y="1428.10" font-size="33" font-family='"Liberation Sans", sans-serif' font-weight="normal" font-style="normal" fill="#000" >180</text>
<text x="361.69" y="1428.10" font-size="33" font-family='"Liberation Sans", sans-serif' font-weight="normal" font-style="normal" fill="#000" >200</text>
<text x="476.79" y="1428.10" font-size="33" font-family='"Liberation Sans", sans-serif' font-weight="normal" font-style="normal" fill="#000" >380</text>
<text x="569.64" y="1428.10" font-size="33" font-family='"Liberation Sans", sans-serif' font-weight="normal" font-style="normal" fill="#000" >400</text>
<text x="662.24" y="1428.10" font-size="33" font-family='"Liberation Sans", sans-serif' font-weight="normal" font-style="normal" fill="#000" >420</text>
<text transform="translate(37.20,1166.30) rotate(-90)" x="-64.07" y="0"><tspan font-size="33.5" font-family='"Liberation Sans", sans-serif' font-style="italic" dy="0">g</tspan><tspan font-size="24" font-family='"Liberation Sans", sans-serif' font-style="normal" dy="8">opt</tspan><tspan font-size="33.5" font-family='"Liberation Sans", sans-serif' font-style="normal" dy="-8"> (nm)</tspan></text>
<text x="348.84" y="1473.20"><tspan font-size="33.5" font-family='"Liberation Sans", sans-serif' font-style="italic" dy="0">h</tspan><tspan font-size="24" font-family='"Liberation Sans", sans-serif' font-style="normal" dy="7.5">opt</tspan><tspan font-size="33.5" font-family='"Liberation Sans", sans-serif' font-style="normal" dy="-7.5"> (nm)</tspan></text>
<text x="347.80" y="983.80" font-size="25" font-family='"Liberation Sans", sans-serif' font-weight="normal" font-style="normal" fill="#000" >150</text>
<text x="420.71" y="1201.40" font-size="25" font-family='"Liberation Sans", sans-serif' font-weight="normal" font-style="normal" fill="#000" >80</text>
<text x="497.55" y="1356.60" font-size="25" font-family='"Liberation Sans", sans-serif' font-weight="normal" font-style="normal" fill="#000" >30</text>
<text x="-1.24" y="963.20" font-size="42" font-family='"Liberation Sans", sans-serif' font-weight="bold" font-style="normal" fill="#000" >c</text>
<clipPath id="clipd"><rect x="881.9" y="56.5" width="553.90" height="288.10"/></clipPath>
<line x1="988.70" y1="56.50" x2="988.70" y2="344.60" stroke="#dddddd" stroke-width="1" />
<line x1="1095.20" y1="56.50" x2="1095.20" y2="344.60" stroke="#dddddd" stroke-width="1" />
<line x1="1201.70" y1="56.50" x2="1201.70" y2="344.60" stroke="#dddddd" stroke-width="1" />
<line x1="1308.20" y1="56.50" x2="1308.20" y2="344.60" stroke="#dddddd" stroke-width="1" />
<line x1="1414.70" y1="56.50" x2="1414.70" y2="344.60" stroke="#dddddd" stroke-width="1" />
<line x1="881.90" y1="201.95" x2="1435.80" y2="201.95" stroke="#dddddd" stroke-width="1" />
<line x1="881.90" y1="59.30" x2="1435.80" y2="59.30" stroke="#dddddd" stroke-width="1" />
<g clip-path="url(#clipd)">
<polyline points="882.20,99.84 884.33,99.84 886.46,99.84 888.59,99.84 890.72,99.85 892.85,99.85 894.98,99.86 897.11,99.86 899.24,99.87 901.37,99.88 903.50,99.89 905.63,99.90 907.76,99.92 909.89,99.93 912.02,99.95 914.15,99.96 916.28,99.98 918.41,100.00 920.54,100.02 922.67,100.04 924.80,100.06 926.93,100.08 929.06,100.10 931.19,100.13 933.32,100.15 935.45,100.18 937.58,100.21 939.71,100.24 941.84,100.27 943.97,100.30 946.10,100.33 948.23,100.37 950.36,100.40 952.49,100.44 954.62,100.48 956.75,100.52 958.88,100.55 961.01,100.60 963.14,100.64 965.27,100.68 967.40,100.73 969.53,100.77 971.66,100.82 973.79,100.87 975.92,100.92 978.05,100.97 980.18,101.02 982.31,101.07 984.44,101.13 986.57,101.18 988.70,101.24 990.83,101.30 992.96,101.36 995.09,101.42 997.22,101.48 999.35,101.54 1001.48,101.61 1003.61,101.67 1005.74,101.74 1007.87,101.81 1010.00,101.88 1012.13,101.95 1014.26,102.02 1016.39,102.10 1018.52,102.17 1020.65,102.25 1022.78,102.33 1024.91,102.41 1027.04,102.49 1029.17,102.57 1031.30,102.65 1033.43,102.74 1035.56,102.83 1037.69,102.91 1039.82,103.00 1041.95,103.09 1044.08,103.19 1046.21,103.28 1048.34,103.38 1050.47,103.48 1052.60,103.57 1054.73,103.68 1056.86,103.78 1058.99,103.88 1061.12,103.99 1063.25,104.09 1065.38,104.20 1067.51,104.31 1069.64,104.43 1071.77,104.54 1073.90,104.66 1076.03,104.77 1078.16,104.89 1080.29,105.01 1082.42,105.14 1084.55,105.26 1086.68,105.39 1088.81,105.52 1090.94,105.65 1093.07,105.78 1095.20,105.91 1097.33,106.05 1099.46,106.19 1101.59,106.33 1103.72,106.47 1105.85,106.62 1107.98,106.76 1110.11,106.91 1112.24,107.06 1114.37,107.21 1116.50,107.37 1118.63,107.53 1120.76,107.69 1122.89,107.85 1125.02,108.01 1127.15,108.18 1129.28,108.35 1131.41,108.52 1133.54,108.69 1135.67,108.87 1137.80,109.04 1139.93,109.23 1142.06,109.41 1144.19,109.59 1146.32,109.78 1148.45,109.97 1150.58,110.17 1152.71,110.37 1154.84,110.57 1156.97,110.77 1159.10,110.97 1161.23,111.18 1163.36,111.39 1165.49,111.61 1167.62,111.82 1169.75,112.04 1171.88,112.27 1174.01,112.49 1176.14,112.72 1178.27,112.96 1180.40,113.19 1182.53,113.43 1184.66,113.68 1186.79,113.92 1188.92,114.17 1191.05,114.43 1193.18,114.68 1195.31,114.95 1197.44,115.21 1199.57,115.48 1201.70,115.75 1203.83,116.03 1205.96,116.31 1208.09,116.59 1210.22,116.88 1212.35,117.18 1214.48,117.48 1216.61,117.78 1218.74,118.08 1220.87,118.40 1223.00,118.71 1225.13,119.03 1227.26,119.36 1229.39,119.69 1231.52,120.03 1233.65,120.37 1235.78,120.71 1237.91,121.07 1240.04,121.42 1242.17,121.79 1244.30,122.15 1246.43,122.53 1248.56,122.91 1250.69,123.30 1252.82,123.69 1254.95,124.09 1257.08,124.49 1259.21,124.90 1261.34,125.32 1263.47,125.75 1265.60,126.18 1267.73,126.62 1269.86,127.07 1271.99,127.53 1274.12,127.99 1276.25,128.46 1278.38,128.94 1280.51,129.43 1282.64,129.92 1284.77,130.43 1286.90,130.94 1289.03,131.46 1291.16,131.99 1293.29,132.54 1295.42,133.09 1297.55,133.65 1299.68,134.22 1301.81,134.81 1303.94,135.40 1306.07,136.01 1308.20,136.62 1310.33,137.25 1312.46,137.89 1314.59,138.55 1316.72,139.22 1318.85,139.90 1320.98,140.59 1323.11,141.30 1325.24,142.02 1327.37,142.76 1329.50,143.52 1331.63,144.29 1333.76,145.08 1335.89,145.88 1338.02,146.70 1340.15,147.55 1342.28,148.41 1344.41,149.29 1346.54,150.19 1348.67,151.11 1350.80,152.05 1352.93,153.02 1355.06,154.01 1357.19,155.03 1359.32,156.07 1361.45,157.14 1363.58,158.24 1365.71,159.36 1367.84,160.52 1369.97,161.71 1372.10,162.93 1374.23,164.19 1376.36,165.48 1378.49,166.81 1380.62,168.18 1382.75,169.59 1384.88,171.05 1387.01,172.56 1389.14,174.11 1391.27,175.72 1393.40,177.38 1395.53,179.10 1397.66,180.89 1399.79,182.74 1401.92,184.66 1404.05,186.65 1406.18,188.73 1408.31,190.90 1410.44,193.16 1412.57,195.52 1414.70,197.99 1416.83,200.58 1418.96,203.31 1421.09,206.18 1423.22,209.21 1425.35,212.42 1427.48,215.82 1429.61,219.46 1431.74,223.34 1433.87,227.52 1436.00,232.05" fill="none" stroke="#ff0000" stroke-width="3.5" stroke-linejoin="round" stroke-linecap="round" stroke-dasharray="0 16.2"/>
<polyline points="882.20,99.84 884.33,99.84 886.46,99.84 888.59,99.83 890.72,99.83 892.85,99.82 894.98,99.82 897.11,99.81 899.24,99.80 901.37,99.79 903.50,99.78 905.63,99.77 907.76,99.76 909.89,99.75 912.02,99.73 914.15,99.72 916.28,99.70 918.41,99.68 920.54,99.66 922.67,99.64 924.80,99.62 926.93,99.60 929.06,99.57 931.19,99.55 933.32,99.52 935.45,99.50 937.58,99.47 939.71,99.44 941.84,99.41 943.97,99.38 946.10,99.34 948.23,99.31 950.36,99.28 952.49,99.24 954.62,99.20 956.75,99.16 958.88,99.13 961.01,99.08 963.14,99.04 965.27,99.00 967.40,98.96 969.53,98.91 971.66,98.87 973.79,98.82 975.92,98.77 978.05,98.72 980.18,98.67 982.31,98.62 984.44,98.56 986.57,98.51 988.70,98.45 990.83,98.40 992.96,98.34 995.09,98.28 997.22,98.22 999.35,98.16 1001.48,98.10 1003.61,98.03 1005.74,97.97 1007.87,97.90 1010.00,97.83 1012.13,97.76 1014.26,97.69 1016.39,97.62 1018.52,97.55 1020.65,97.48 1022.78,97.40 1024.91,97.32 1027.04,97.25 1029.17,97.17 1031.30,97.09 1033.43,97.01 1035.56,96.92 1037.69,96.84 1039.82,96.75 1041.95,96.67 1044.08,96.58 1046.21,96.49 1048.34,96.40 1050.47,96.31 1052.60,96.21 1054.73,96.12 1056.86,96.02 1058.99,95.93 1061.12,95.83 1063.25,95.73 1065.38,95.62 1067.51,95.52 1069.64,95.42 1071.77,95.31 1073.90,95.20 1076.03,95.10 1078.16,94.99 1080.29,94.87 1082.42,94.76 1084.55,94.65 1086.68,94.53 1088.81,94.41 1090.94,94.29 1093.07,94.17 1095.20,94.05 1097.33,93.93 1099.46,93.80 1101.59,93.68 1103.72,93.55 1105.85,93.42 1107.98,93.29 1110.11,93.16 1112.24,93.02 1114.37,92.89 1116.50,92.75 1118.63,92.61 1120.76,92.47 1122.89,92.33 1125.02,92.18 1127.15,92.04 1129.28,91.89 1131.41,91.74 1133.54,91.59 1135.67,91.44 1137.80,91.28 1139.93,91.13 1142.06,90.97 1144.19,90.81 1146.32,90.65 1148.45,90.49 1150.58,90.32 1152.71,90.16 1154.84,89.99 1156.97,89.82 1159.10,89.65 1161.23,89.47 1163.36,89.30 1165.49,89.12 1167.62,88.94 1169.75,88.76 1171.88,88.58 1174.01,88.39 1176.14,88.20 1178.27,88.01 1180.40,87.82 1182.53,87.63 1184.66,87.43 1186.79,87.24 1188.92,87.04 1191.05,86.84 1193.18,86.63 1195.31,86.43 1197.44,86.22 1199.57,86.01 1201.70,85.80 1203.83,85.59 1205.96,85.37 1208.09,85.15 1210.22,84.93 1212.35,84.71 1214.48,84.48 1216.61,84.25 1218.74,84.03 1220.87,83.79 1223.00,83.56 1225.13,83.32 1227.26,83.08 1229.39,82.84 1231.52,82.60 1233.65,82.35 1235.78,82.11 1237.91,81.86 1240.04,81.60 1242.17,81.35 1244.30,81.09 1246.43,80.83 1248.56,80.57 1250.69,80.30 1252.82,80.03 1254.95,79.76 1257.08,79.49 1259.21,79.21 1261.34,78.94 1263.47,78.66 1265.60,78.37 1267.73,78.09 1269.86,77.80 1271.99,77.51 1274.12,77.22 1276.25,76.92 1278.38,76.62 1280.51,76.32 1282.64,76.02 1284.77,75.71 1286.90,75.40 1289.03,75.09 1291.16,74.78 1293.29,74.46 1295.42,74.15 1297.55,73.83 1299.68,73.50 1301.81,73.18 1303.94,72.85 1306.07,72.52 1308.20,72.19 1310.33,71.85 1312.46,71.52 1314.59,71.18 1316.72,70.84 1318.85,70.50 1320.98,70.15 1323.11,69.81 1325.24,69.46 1327.37,69.11 1329.50,68.76 1331.63,68.41 1333.76,68.06 1335.89,67.70 1338.02,67.35 1340.15,67.00 1342.28,66.64 1344.41,66.29 1346.54,65.94 1348.67,65.58 1350.80,65.23 1352.93,64.88 1355.06,64.53 1357.19,64.19 1359.32,63.85 1361.45,63.51 1363.58,63.17 1365.71,62.84 1367.84,62.52 1369.97,62.20 1372.10,61.89 1374.23,61.59 1376.36,61.30 1378.49,61.02 1380.62,60.76 1382.75,60.51 1384.88,60.27 1387.01,60.05 1389.14,59.86 1391.27,59.69 1393.40,59.54 1395.53,59.43 1397.66,59.35 1399.79,59.30 1401.92,59.31 1404.05,59.36 1406.18,59.47 1408.31,59.64 1410.44,59.89 1412.57,60.22 1414.70,60.65 1416.83,61.19 1418.96,61.87 1421.09,62.69 1423.22,63.70 1425.35,64.92 1427.48,66.40 1429.61,68.17 1431.74,70.32 1433.87,72.93 1436.00,76.10" fill="none" stroke="#0000ff" stroke-width="3.5" stroke-linejoin="round" stroke-linecap="round" stroke-dasharray="0 16.2"/>
<polyline points="882.20,99.84 884.33,99.84 886.46,99.84 888.59,99.84 890.72,99.84 892.85,99.84 894.98,99.84 897.11,99.84 899.24,99.84 901.37,99.84 903.50,99.84 905.63,99.84 907.76,99.84 909.89,99.84 912.02,99.84 914.15,99.84 916.28,99.84 918.41,99.84 920.54,99.84 922.67,99.84 924.80,99.84 926.93,99.84 929.06,99.84 931.19,99.84 933.32,99.84 935.45,99.84 937.58,99.84 939.71,99.84 941.84,99.84 943.97,99.84 946.10,99.84 948.23,99.84 950.36,99.84 952.49,99.84 954.62,99.84 956.75,99.84 958.88,99.84 961.01,99.84 963.14,99.84 965.27,99.84 967.40,99.84 969.53,99.84 971.66,99.84 973.79,99.84 975.92,99.84 978.05,99.84 980.18,99.84 982.31,99.84 984.44,99.84 986.57,99.85 988.70,99.85 990.83,99.85 992.96,99.85 995.09,99.85 997.22,99.85 999.35,99.85 1001.48,99.85 1003.61,99.85 1005.74,99.85 1007.87,99.85 1010.00,99.85 1012.13,99.86 1014.26,99.86 1016.39,99.86 1018.52,99.86 1020.65,99.86 1022.78,99.86 1024.91,99.86 1027.04,99.87 1029.17,99.87 1031.30,99.87 1033.43,99.87 1035.56,99.87 1037.69,99.88 1039.82,99.88 1041.95,99.88 1044.08,99.88 1046.21,99.89 1048.34,99.89 1050.47,99.89 1052.60,99.89 1054.73,99.90 1056.86,99.90 1058.99,99.90 1061.12,99.91 1063.25,99.91 1065.38,99.91 1067.51,99.92 1069.64,99.92 1071.77,99.93 1073.90,99.93 1076.03,99.93 1078.16,99.94 1080.29,99.94 1082.42,99.95 1084.55,99.95 1086.68,99.96 1088.81,99.97 1090.94,99.97 1093.07,99.98 1095.20,99.98 1097.33,99.99 1099.46,100.00 1101.59,100.00 1103.72,100.01 1105.85,100.02 1107.98,100.03 1110.11,100.03 1112.24,100.04 1114.37,100.05 1116.50,100.06 1118.63,100.07 1120.76,100.08 1122.89,100.09 1125.02,100.10 1127.15,100.11 1129.28,100.12 1131.41,100.13 1133.54,100.14 1135.67,100.15 1137.80,100.16 1139.93,100.18 1142.06,100.19 1144.19,100.20 1146.32,100.22 1148.45,100.23 1150.58,100.25 1152.71,100.26 1154.84,100.28 1156.97,100.29 1159.10,100.31 1161.23,100.33 1163.36,100.34 1165.49,100.36 1167.62,100.38 1169.75,100.40 1171.88,100.42 1174.01,100.44 1176.14,100.46 1178.27,100.49 1180.40,100.51 1182.53,100.53 1184.66,100.56 1186.79,100.58 1188.92,100.61 1191.05,100.63 1193.18,100.66 1195.31,100.69 1197.44,100.72 1199.57,100.74 1201.70,100.78 1203.83,100.81 1205.96,100.84 1208.09,100.87 1210.22,100.91 1212.35,100.94 1214.48,100.98 1216.61,101.02 1218.74,101.05 1220.87,101.09 1223.00,101.14 1225.13,101.18 1227.26,101.22 1229.39,101.27 1231.52,101.31 1233.65,101.36 1235.78,101.41 1237.91,101.46 1240.04,101.51 1242.17,101.57 1244.30,101.62 1246.43,101.68 1248.56,101.74 1250.69,101.80 1252.82,101.86 1254.95,101.92 1257.08,101.99 1259.21,102.06 1261.34,102.13 1263.47,102.20 1265.60,102.28 1267.73,102.36 1269.86,102.44 1271.99,102.52 1274.12,102.60 1276.25,102.69 1278.38,102.78 1280.51,102.87 1282.64,102.97 1284.77,103.07 1286.90,103.17 1289.03,103.28 1291.16,103.39 1293.29,103.50 1295.42,103.62 1297.55,103.74 1299.68,103.86 1301.81,103.99 1303.94,104.13 1306.07,104.26 1308.20,104.41 1310.33,104.55 1312.46,104.71 1314.59,104.86 1316.72,105.03 1318.85,105.20 1320.98,105.37 1323.11,105.55 1325.24,105.74 1327.37,105.94 1329.50,106.14 1331.63,106.35 1333.76,106.57 1335.89,106.79 1338.02,107.03 1340.15,107.27 1342.28,107.52 1344.41,107.79 1346.54,108.06 1348.67,108.35 1350.80,108.64 1352.93,108.95 1355.06,109.27 1357.19,109.61 1359.32,109.96 1361.45,110.32 1363.58,110.70 1365.71,111.10 1367.84,111.52 1369.97,111.96 1372.10,112.41 1374.23,112.89 1376.36,113.39 1378.49,113.92 1380.62,114.47 1382.75,115.05 1384.88,115.66 1387.01,116.31 1389.14,116.99 1391.27,117.70 1393.40,118.46 1395.53,119.26 1397.66,120.12 1399.79,121.02 1401.92,121.98 1404.05,123.01 1406.18,124.10 1408.31,125.27 1410.44,126.52 1412.57,127.87 1414.70,129.32 1416.83,130.89 1418.96,132.59 1421.09,134.44 1423.22,136.46 1425.35,138.67 1427.48,141.11 1429.61,143.81 1431.74,146.83 1433.87,150.23 1436.00,154.08" fill="none" stroke="#ff8000" stroke-width="4.6" stroke-linejoin="round" stroke-linecap="round" stroke-dasharray="0 20.8"/>
<polyline points="882.20,62.84 903.50,62.87 924.80,62.92 946.10,63.04 967.40,63.24 988.70,63.86 1010.00,65.15 1031.30,67.15 1052.60,70.14 1073.90,74.82 1095.20,80.70 1116.50,87.83 1137.80,97.82 1159.10,109.80 1180.40,125.20 1201.70,144.32 1223.00,163.72 1244.30,183.41 1265.60,202.81 1286.90,222.78 1308.20,241.32 1329.50,257.87 1350.80,271.85 1372.10,284.97 1393.40,294.96 1414.70,304.94 1436.00,314.64" fill="none" stroke="#ff0000" stroke-width="3.0" stroke-linejoin="round" />
<polyline points="882.20,62.84 903.50,62.84 924.80,62.87 946.10,62.95 967.40,63.07 988.70,63.58 1010.00,64.58 1031.30,66.15 1052.60,68.57 1073.90,71.00 1095.20,74.02 1116.50,77.64 1137.80,80.98 1159.10,84.41 1180.40,87.54 1201.70,89.68 1223.00,90.83 1244.30,90.26 1265.60,86.97 1286.90,80.70 1308.20,74.14 1329.50,67.57 1350.80,64.29 1372.10,71.57 1393.40,97.24 1414.70,143.46 1436.00,206.51" fill="none" stroke="#0000ff" stroke-width="3.0" stroke-linejoin="round" />
<polyline points="882.20,62.84 903.50,62.85 924.80,62.89 946.10,62.99 967.40,63.15 988.70,63.72 1010.00,64.86 1031.30,66.65 1052.60,69.36 1073.90,72.91 1095.20,77.36 1116.50,82.74 1137.80,89.40 1159.10,97.10 1180.40,106.37 1201.70,117.00 1223.00,127.27 1244.30,136.83 1265.60,144.89 1286.90,151.74 1308.20,157.73 1329.50,162.72 1350.80,168.07 1372.10,178.27 1393.40,196.10 1414.70,224.20 1436.00,260.58" fill="none" stroke="#ff8000" stroke-width="4.5" stroke-linejoin="round" />
</g>
<rect x="881.9" y="56.5" width="553.90" height="288.10" fill="none" stroke="#000" stroke-width="1.4"/>
<text x="814.83" y="69.20" font-size="33" font-family='"Liberation Sans", sans-serif' font-weight="normal" font-style="normal" fill="#000" >100</text>
<text x="833.18" y="212.20" font-size="33" font-family='"Liberation Sans", sans-serif' font-weight="normal" font-style="normal" fill="#000" >50</text>
<text x="851.54" y="354.70" font-size="33" font-family='"Liberation Sans", sans-serif' font-weight="normal" font-style="normal" fill="#000" >0</text>
<text transform="translate(790.00,201.65) rotate(-90)" x="-40.27" y="0"><tspan font-size="33.5" font-family='"Liberation Sans", sans-serif' font-style="normal" dy="0">T (%)</tspan></text>
<text x="760.88" y="30.90" font-size="42" font-family='"Liberation Sans", sans-serif' font-weight="bold" font-style="normal" fill="#000" >d</text>
<text x="1057.50" y="42.30" font-size="33" font-family='"Liberation Sans", sans-serif' font-weight="normal" font-style="normal" fill="#000" >at</text>
<text x="1095.71" y="42.30" font-size="33" font-family='"Liberation Serif", serif' font-weight="normal" font-style="italic" fill="#000" textLength="17.6" lengthAdjust="spacingAndGlyphs">λ</text>
<text x="1120.59" y="42.30" font-size="33" font-family='"Liberation Sans", sans-serif' font-weight="normal" font-style="normal" fill="#000" >=</text>
<text x="1149.52" y="42.30" font-size="33" font-family='"Liberation Sans", sans-serif' font-weight="normal" font-style="normal" fill="#000" >625</text>
<text x="1214.61" y="42.30" font-size="33" font-family='"Liberation Sans", sans-serif' font-weight="normal" font-style="normal" fill="#000" >nm</text>
<text x="977.54" y="179.00" font-size="29" font-family='"Liberation Sans", sans-serif' font-weight="normal" font-style="normal" fill="#000" >with NP</text>
<text x="1096.87" y="178.80" font-size="29" font-family='"Liberation Sans", sans-serif' font-weight="normal" font-style="normal" fill="#000" >no NP</text>
<text x="906.98" y="198.00" font-size="29" font-family='"Liberation Sans", sans-serif' font-weight="normal" font-style="normal" fill="#000" >s-pol</text>
<text x="905.35" y="235.10" font-size="29" font-family='"Liberation Sans", sans-serif' font-weight="normal" font-style="normal" fill="#000" >p-pol</text>
<text x="898.88" y="273.30" font-size="29" font-family='"Liberation Sans", sans-serif' font-weight="normal" font-style="normal" fill="#000" >unpol</text>
<line x1="981.20" y1="193.50" x2="1066.80" y2="193.50" stroke="#ff0000" stroke-width="3.6" />
<line x1="981.20" y1="227.00" x2="1066.80" y2="227.00" stroke="#0000ff" stroke-width="3.6" />
<line x1="981.20" y1="259.80" x2="1066.80" y2="259.80" stroke="#ff8000" stroke-width="3.8" />
<line x1="1100.90" y1="193.50" x2="1107.80" y2="193.50" stroke="#ff0000" stroke-width="3.4" />
<line x1="1124.30" y1="193.50" x2="1131.20" y2="193.50" stroke="#ff0000" stroke-width="3.4" />
<line x1="1147.70" y1="193.50" x2="1154.60" y2="193.50" stroke="#ff0000" stroke-width="3.4" />
<line x1="1171.10" y1="193.50" x2="1178.00" y2="193.50" stroke="#ff0000" stroke-width="3.4" />
<line x1="1100.90" y1="227.00" x2="1107.80" y2="227.00" stroke="#0000ff" stroke-width="3.4" />
<line x1="1124.30" y1="227.00" x2="1131.20" y2="227.00" stroke="#0000ff" stroke-width="3.4" />
<line x1="1147.70" y1="227.00" x2="1154.60" y2="227.00" stroke="#0000ff" stroke-width="3.4" />
<line x1="1171.10" y1="227.00" x2="1178.00" y2="227.00" stroke="#0000ff" stroke-width="3.4" />
<line x1="1100.90" y1="259.80" x2="1107.80" y2="259.80" stroke="#ff8000" stroke-width="3.4" />
<line x1="1124.30" y1="259.80" x2="1131.20" y2="259.80" stroke="#ff8000" stroke-width="3.4" />
<line x1="1147.70" y1="259.80" x2="1154.60" y2="259.80" stroke="#ff8000" stroke-width="3.4" />
<line x1="1171.10" y1="259.80" x2="1178.00" y2="259.80" stroke="#ff8000" stroke-width="3.4" />
<text x="954.79" y="333.60"><tspan font-size="29" font-family='"Liberation Sans", sans-serif' font-style="normal" dy="0">for </tspan><tspan font-size="29" font-family='"Liberation Sans", sans-serif' font-style="italic" dy="0">h</tspan><tspan font-size="29" font-family='"Liberation Sans", sans-serif' font-style="normal" dy="0"> = 185,</tspan><tspan font-size="29" font-family='"Liberation Sans", sans-serif' font-style="italic" dy="0">R</tspan><tspan font-size="29" font-family='"Liberation Sans", sans-serif' font-style="normal" dy="0"> = 50,</tspan><tspan font-size="29" font-family='"Liberation Sans", sans-serif' font-style="italic" dy="0">g</tspan><tspan font-size="29" font-family='"Liberation Sans", sans-serif' font-style="normal" dy="0"> = 150 (nm)</tspan></text>
<clipPath id="clipe"><rect x="881.9" y="417.0" width="553.90" height="288.90"/></clipPath>
<line x1="988.70" y1="417.00" x2="988.70" y2="705.90" stroke="#dddddd" stroke-width="1" />
<line x1="1095.20" y1="417.00" x2="1095.20" y2="705.90" stroke="#dddddd" stroke-width="1" />
<line x1="1201.70" y1="417.00" x2="1201.70" y2="705.90" stroke="#dddddd" stroke-width="1" />
<line x1="1308.20" y1="417.00" x2="1308.20" y2="705.90" stroke="#dddddd" stroke-width="1" />
<line x1="1414.70" y1="417.00" x2="1414.70" y2="705.90" stroke="#dddddd" stroke-width="1" />
<line x1="881.90" y1="562.85" x2="1435.80" y2="562.85" stroke="#dddddd" stroke-width="1" />
<line x1="881.90" y1="419.80" x2="1435.80" y2="419.80" stroke="#dddddd" stroke-width="1" />
<g clip-path="url(#clipe)">
<polyline points="882.20,460.45 884.33,460.45 886.46,460.45 888.59,460.46 890.72,460.46 892.85,460.47 894.98,460.47 897.11,460.48 899.24,460.49 901.37,460.50 903.50,460.51 905.63,460.52 907.76,460.53 909.89,460.54 912.02,460.56 914.15,460.58 916.28,460.59 918.41,460.61 920.54,460.63 922.67,460.65 924.80,460.67 926.93,460.69 929.06,460.72 931.19,460.74 933.32,460.77 935.45,460.80 937.58,460.82 939.71,460.85 941.84,460.88 943.97,460.92 946.10,460.95 948.23,460.98 950.36,461.02 952.49,461.05 954.62,461.09 956.75,461.13 958.88,461.17 961.01,461.21 963.14,461.25 965.27,461.30 967.40,461.34 969.53,461.39 971.66,461.43 973.79,461.48 975.92,461.53 978.05,461.58 980.18,461.64 982.31,461.69 984.44,461.74 986.57,461.80 988.70,461.86 990.83,461.91 992.96,461.97 995.09,462.03 997.22,462.10 999.35,462.16 1001.48,462.22 1003.61,462.29 1005.74,462.36 1007.87,462.43 1010.00,462.50 1012.13,462.57 1014.26,462.64 1016.39,462.72 1018.52,462.79 1020.65,462.87 1022.78,462.95 1024.91,463.03 1027.04,463.11 1029.17,463.19 1031.30,463.27 1033.43,463.36 1035.56,463.45 1037.69,463.54 1039.82,463.63 1041.95,463.72 1044.08,463.81 1046.21,463.91 1048.34,464.00 1050.47,464.10 1052.60,464.20 1054.73,464.30 1056.86,464.40 1058.99,464.51 1061.12,464.61 1063.25,464.72 1065.38,464.83 1067.51,464.94 1069.64,465.05 1071.77,465.17 1073.90,465.28 1076.03,465.40 1078.16,465.52 1080.29,465.64 1082.42,465.77 1084.55,465.89 1086.68,466.02 1088.81,466.15 1090.94,466.28 1093.07,466.41 1095.20,466.54 1097.33,466.68 1099.46,466.82 1101.59,466.96 1103.72,467.10 1105.85,467.25 1107.98,467.39 1110.11,467.54 1112.24,467.69 1114.37,467.85 1116.50,468.00 1118.63,468.16 1120.76,468.32 1122.89,468.48 1125.02,468.65 1127.15,468.81 1129.28,468.98 1131.41,469.15 1133.54,469.33 1135.67,469.51 1137.80,469.68 1139.93,469.87 1142.06,470.05 1144.19,470.24 1146.32,470.43 1148.45,470.62 1150.58,470.81 1152.71,471.01 1154.84,471.21 1156.97,471.41 1159.10,471.62 1161.23,471.83 1163.36,472.04 1165.49,472.25 1167.62,472.47 1169.75,472.69 1171.88,472.92 1174.01,473.14 1176.14,473.37 1178.27,473.61 1180.40,473.84 1182.53,474.08 1184.66,474.33 1186.79,474.58 1188.92,474.83 1191.05,475.08 1193.18,475.34 1195.31,475.60 1197.44,475.87 1199.57,476.14 1201.70,476.41 1203.83,476.69 1205.96,476.97 1208.09,477.26 1210.22,477.55 1212.35,477.84 1214.48,478.14 1216.61,478.44 1218.74,478.75 1220.87,479.06 1223.00,479.38 1225.13,479.70 1227.26,480.03 1229.39,480.36 1231.52,480.70 1233.65,481.04 1235.78,481.39 1237.91,481.74 1240.04,482.10 1242.17,482.46 1244.30,482.83 1246.43,483.21 1248.56,483.59 1250.69,483.97 1252.82,484.37 1254.95,484.77 1257.08,485.18 1259.21,485.59 1261.34,486.01 1263.47,486.44 1265.60,486.87 1267.73,487.31 1269.86,487.76 1271.99,488.22 1274.12,488.68 1276.25,489.15 1278.38,489.63 1280.51,490.12 1282.64,490.62 1284.77,491.13 1286.90,491.64 1289.03,492.16 1291.16,492.70 1293.29,493.24 1295.42,493.80 1297.55,494.36 1299.68,494.93 1301.81,495.52 1303.94,496.11 1306.07,496.72 1308.20,497.34 1310.33,497.97 1312.46,498.61 1314.59,499.27 1316.72,499.94 1318.85,500.62 1320.98,501.32 1323.11,502.03 1325.24,502.76 1327.37,503.50 1329.50,504.25 1331.63,505.03 1333.76,505.82 1335.89,506.62 1338.02,507.45 1340.15,508.29 1342.28,509.16 1344.41,510.04 1346.54,510.94 1348.67,511.87 1350.80,512.81 1352.93,513.78 1355.06,514.78 1357.19,515.80 1359.32,516.84 1361.45,517.91 1363.58,519.01 1365.71,520.14 1367.84,521.30 1369.97,522.49 1372.10,523.72 1374.23,524.98 1376.36,526.28 1378.49,527.61 1380.62,528.99 1382.75,530.40 1384.88,531.87 1387.01,533.38 1389.14,534.93 1391.27,536.55 1393.40,538.21 1395.53,539.94 1397.66,541.73 1399.79,543.58 1401.92,545.51 1404.05,547.51 1406.18,549.60 1408.31,551.77 1410.44,554.03 1412.57,556.40 1414.70,558.88 1416.83,561.48 1418.96,564.21 1421.09,567.09 1423.22,570.13 1425.35,573.35 1427.48,576.76 1429.61,580.40 1431.74,584.30 1433.87,588.50 1436.00,593.03" fill="none" stroke="#ff0000" stroke-width="3.5" stroke-linejoin="round" stroke-linecap="round" stroke-dasharray="0 16.2"/>
<polyline points="882.20,460.45 884.33,460.45 886.46,460.45 888.59,460.45 890.72,460.44 892.85,460.44 894.98,460.43 897.11,460.42 899.24,460.42 901.37,460.41 903.50,460.40 905.63,460.39 907.76,460.37 909.89,460.36 912.02,460.34 914.15,460.33 916.28,460.31 918.41,460.29 920.54,460.27 922.67,460.25 924.80,460.23 926.93,460.21 929.06,460.19 931.19,460.16 933.32,460.14 935.45,460.11 937.58,460.08 939.71,460.05 941.84,460.02 943.97,459.99 946.10,459.96 948.23,459.92 950.36,459.89 952.49,459.85 954.62,459.81 956.75,459.78 958.88,459.74 961.01,459.70 963.14,459.65 965.27,459.61 967.40,459.57 969.53,459.52 971.66,459.48 973.79,459.43 975.92,459.38 978.05,459.33 980.18,459.28 982.31,459.23 984.44,459.17 986.57,459.12 988.70,459.06 990.83,459.01 992.96,458.95 995.09,458.89 997.22,458.83 999.35,458.77 1001.48,458.70 1003.61,458.64 1005.74,458.57 1007.87,458.51 1010.00,458.44 1012.13,458.37 1014.26,458.30 1016.39,458.23 1018.52,458.16 1020.65,458.08 1022.78,458.01 1024.91,457.93 1027.04,457.85 1029.17,457.77 1031.30,457.69 1033.43,457.61 1035.56,457.53 1037.69,457.44 1039.82,457.36 1041.95,457.27 1044.08,457.18 1046.21,457.09 1048.34,457.00 1050.47,456.91 1052.60,456.82 1054.73,456.72 1056.86,456.63 1058.99,456.53 1061.12,456.43 1063.25,456.33 1065.38,456.23 1067.51,456.12 1069.64,456.02 1071.77,455.91 1073.90,455.81 1076.03,455.70 1078.16,455.59 1080.29,455.47 1082.42,455.36 1084.55,455.25 1086.68,455.13 1088.81,455.01 1090.94,454.89 1093.07,454.77 1095.20,454.65 1097.33,454.53 1099.46,454.40 1101.59,454.27 1103.72,454.15 1105.85,454.02 1107.98,453.89 1110.11,453.75 1112.24,453.62 1114.37,453.48 1116.50,453.34 1118.63,453.20 1120.76,453.06 1122.89,452.92 1125.02,452.78 1127.15,452.63 1129.28,452.48 1131.41,452.33 1133.54,452.18 1135.67,452.03 1137.80,451.87 1139.93,451.72 1142.06,451.56 1144.19,451.40 1146.32,451.24 1148.45,451.08 1150.58,450.91 1152.71,450.74 1154.84,450.58 1156.97,450.40 1159.10,450.23 1161.23,450.06 1163.36,449.88 1165.49,449.70 1167.62,449.52 1169.75,449.34 1171.88,449.16 1174.01,448.97 1176.14,448.78 1178.27,448.59 1180.40,448.40 1182.53,448.21 1184.66,448.01 1186.79,447.82 1188.92,447.62 1191.05,447.41 1193.18,447.21 1195.31,447.00 1197.44,446.80 1199.57,446.59 1201.70,446.37 1203.83,446.16 1205.96,445.94 1208.09,445.72 1210.22,445.50 1212.35,445.28 1214.48,445.05 1216.61,444.82 1218.74,444.59 1220.87,444.36 1223.00,444.13 1225.13,443.89 1227.26,443.65 1229.39,443.41 1231.52,443.16 1233.65,442.92 1235.78,442.67 1237.91,442.42 1240.04,442.16 1242.17,441.91 1244.30,441.65 1246.43,441.39 1248.56,441.13 1250.69,440.86 1252.82,440.59 1254.95,440.32 1257.08,440.05 1259.21,439.77 1261.34,439.49 1263.47,439.21 1265.60,438.93 1267.73,438.64 1269.86,438.35 1271.99,438.06 1274.12,437.77 1276.25,437.47 1278.38,437.17 1280.51,436.87 1282.64,436.57 1284.77,436.26 1286.90,435.95 1289.03,435.64 1291.16,435.32 1293.29,435.01 1295.42,434.69 1297.55,434.37 1299.68,434.04 1301.81,433.72 1303.94,433.39 1306.07,433.06 1308.20,432.72 1310.33,432.39 1312.46,432.05 1314.59,431.71 1316.72,431.37 1318.85,431.03 1320.98,430.68 1323.11,430.34 1325.24,429.99 1327.37,429.64 1329.50,429.29 1331.63,428.93 1333.76,428.58 1335.89,428.23 1338.02,427.87 1340.15,427.52 1342.28,427.16 1344.41,426.81 1346.54,426.45 1348.67,426.10 1350.80,425.75 1352.93,425.40 1355.06,425.05 1357.19,424.70 1359.32,424.36 1361.45,424.02 1363.58,423.68 1365.71,423.35 1367.84,423.03 1369.97,422.71 1372.10,422.40 1374.23,422.10 1376.36,421.81 1378.49,421.53 1380.62,421.26 1382.75,421.01 1384.88,420.77 1387.01,420.56 1389.14,420.36 1391.27,420.19 1393.40,420.04 1395.53,419.93 1397.66,419.85 1399.79,419.80 1401.92,419.81 1404.05,419.86 1406.18,419.97 1408.31,420.14 1410.44,420.39 1412.57,420.72 1414.70,421.15 1416.83,421.70 1418.96,422.37 1421.09,423.20 1423.22,424.21 1425.35,425.44 1427.48,426.91 1429.61,428.70 1431.74,430.85 1433.87,433.47 1436.00,436.65" fill="none" stroke="#0000ff" stroke-width="3.5" stroke-linejoin="round" stroke-linecap="round" stroke-dasharray="0 16.2"/>
<polyline points="882.20,460.45 884.33,460.45 886.46,460.45 888.59,460.45 890.72,460.45 892.85,460.45 894.98,460.45 897.11,460.45 899.24,460.45 901.37,460.45 903.50,460.45 905.63,460.45 907.76,460.45 909.89,460.45 912.02,460.45 914.15,460.45 916.28,460.45 918.41,460.45 920.54,460.45 922.67,460.45 924.80,460.45 926.93,460.45 929.06,460.45 931.19,460.45 933.32,460.45 935.45,460.45 937.58,460.45 939.71,460.45 941.84,460.45 943.97,460.45 946.10,460.45 948.23,460.45 950.36,460.45 952.49,460.45 954.62,460.45 956.75,460.45 958.88,460.45 961.01,460.45 963.14,460.45 965.27,460.45 967.40,460.45 969.53,460.46 971.66,460.46 973.79,460.46 975.92,460.46 978.05,460.46 980.18,460.46 982.31,460.46 984.44,460.46 986.57,460.46 988.70,460.46 990.83,460.46 992.96,460.46 995.09,460.46 997.22,460.46 999.35,460.46 1001.48,460.46 1003.61,460.47 1005.74,460.47 1007.87,460.47 1010.00,460.47 1012.13,460.47 1014.26,460.47 1016.39,460.47 1018.52,460.47 1020.65,460.48 1022.78,460.48 1024.91,460.48 1027.04,460.48 1029.17,460.48 1031.30,460.48 1033.43,460.49 1035.56,460.49 1037.69,460.49 1039.82,460.49 1041.95,460.49 1044.08,460.50 1046.21,460.50 1048.34,460.50 1050.47,460.50 1052.60,460.51 1054.73,460.51 1056.86,460.51 1058.99,460.52 1061.12,460.52 1063.25,460.52 1065.38,460.53 1067.51,460.53 1069.64,460.54 1071.77,460.54 1073.90,460.54 1076.03,460.55 1078.16,460.55 1080.29,460.56 1082.42,460.56 1084.55,460.57 1086.68,460.57 1088.81,460.58 1090.94,460.59 1093.07,460.59 1095.20,460.60 1097.33,460.60 1099.46,460.61 1101.59,460.62 1103.72,460.62 1105.85,460.63 1107.98,460.64 1110.11,460.65 1112.24,460.66 1114.37,460.66 1116.50,460.67 1118.63,460.68 1120.76,460.69 1122.89,460.70 1125.02,460.71 1127.15,460.72 1129.28,460.73 1131.41,460.74 1133.54,460.76 1135.67,460.77 1137.80,460.78 1139.93,460.79 1142.06,460.80 1144.19,460.82 1146.32,460.83 1148.45,460.85 1150.58,460.86 1152.71,460.88 1154.84,460.89 1156.97,460.91 1159.10,460.93 1161.23,460.94 1163.36,460.96 1165.49,460.98 1167.62,461.00 1169.75,461.02 1171.88,461.04 1174.01,461.06 1176.14,461.08 1178.27,461.10 1180.40,461.12 1182.53,461.15 1184.66,461.17 1186.79,461.20 1188.92,461.22 1191.05,461.25 1193.18,461.27 1195.31,461.30 1197.44,461.33 1199.57,461.36 1201.70,461.39 1203.83,461.42 1205.96,461.46 1208.09,461.49 1210.22,461.52 1212.35,461.56 1214.48,461.60 1216.61,461.63 1218.74,461.67 1220.87,461.71 1223.00,461.75 1225.13,461.80 1227.26,461.84 1229.39,461.88 1231.52,461.93 1233.65,461.98 1235.78,462.03 1237.91,462.08 1240.04,462.13 1242.17,462.18 1244.30,462.24 1246.43,462.30 1248.56,462.36 1250.69,462.42 1252.82,462.48 1254.95,462.54 1257.08,462.61 1259.21,462.68 1261.34,462.75 1263.47,462.82 1265.60,462.90 1267.73,462.98 1269.86,463.06 1271.99,463.14 1274.12,463.22 1276.25,463.31 1278.38,463.40 1280.51,463.50 1282.64,463.59 1284.77,463.69 1286.90,463.80 1289.03,463.90 1291.16,464.01 1293.29,464.12 1295.42,464.24 1297.55,464.36 1299.68,464.49 1301.81,464.62 1303.94,464.75 1306.07,464.89 1308.20,465.03 1310.33,465.18 1312.46,465.33 1314.59,465.49 1316.72,465.66 1318.85,465.82 1320.98,466.00 1323.11,466.18 1325.24,466.37 1327.37,466.57 1329.50,466.77 1331.63,466.98 1333.76,467.20 1335.89,467.43 1338.02,467.66 1340.15,467.91 1342.28,468.16 1344.41,468.42 1346.54,468.70 1348.67,468.98 1350.80,469.28 1352.93,469.59 1355.06,469.91 1357.19,470.25 1359.32,470.60 1361.45,470.97 1363.58,471.35 1365.71,471.75 1367.84,472.17 1369.97,472.60 1372.10,473.06 1374.23,473.54 1376.36,474.04 1378.49,474.57 1380.62,475.12 1382.75,475.71 1384.88,476.32 1387.01,476.97 1389.14,477.65 1391.27,478.37 1393.40,479.13 1395.53,479.93 1397.66,480.79 1399.79,481.69 1401.92,482.66 1404.05,483.68 1406.18,484.78 1408.31,485.95 1410.44,487.21 1412.57,488.56 1414.70,490.02 1416.83,491.59 1418.96,493.29 1421.09,495.15 1423.22,497.17 1425.35,499.39 1427.48,501.84 1429.61,504.55 1431.74,507.58 1433.87,510.98 1436.00,514.84" fill="none" stroke="#ff8000" stroke-width="4.6" stroke-linejoin="round" stroke-linecap="round" stroke-dasharray="0 20.8"/>
<polyline points="882.20,423.52 903.50,423.52 924.80,423.55 946.10,423.58 967.40,423.63 988.70,423.75 1010.00,423.86 1031.30,424.03 1052.60,424.23 1073.90,424.49 1095.20,424.81 1116.50,424.61 1137.80,424.58 1159.10,424.66 1180.40,425.38 1201.70,425.98 1223.00,426.67 1244.30,427.81 1265.60,428.96 1286.90,430.79 1308.20,433.08 1329.50,436.11 1350.80,440.28 1372.10,446.78 1393.40,456.71 1414.70,475.30 1436.00,511.35" fill="none" stroke="#ff0000" stroke-width="3.0" stroke-linejoin="round" />
<polyline points="882.20,423.52 903.50,423.52 924.80,423.55 946.10,423.58 967.40,423.63 988.70,423.75 1010.00,423.86 1031.30,424.03 1052.60,424.23 1073.90,424.49 1095.20,424.81 1116.50,425.75 1137.80,426.58 1159.10,427.52 1180.40,428.24 1201.70,428.84 1223.00,429.53 1244.30,430.67 1265.60,431.82 1286.90,433.65 1308.20,435.94 1329.50,438.97 1350.80,443.15 1372.10,449.07 1393.40,456.71 1414.70,471.58 1436.00,501.62" fill="none" stroke="#0000ff" stroke-width="3.0" stroke-linejoin="round" />
<polyline points="882.20,423.52 903.50,423.52 924.80,423.55 946.10,423.58 967.40,423.63 988.70,423.75 1010.00,423.86 1031.30,424.03 1052.60,424.23 1073.90,424.49 1095.20,424.81 1116.50,425.18 1137.80,425.58 1159.10,426.09 1180.40,426.81 1201.70,427.41 1223.00,428.10 1244.30,429.24 1265.60,430.39 1286.90,432.22 1308.20,434.51 1329.50,437.54 1350.80,441.72 1372.10,447.92 1393.40,456.71 1414.70,473.44 1436.00,506.49" fill="none" stroke="#ff8000" stroke-width="4.5" stroke-linejoin="round" />
</g>
<rect x="881.9" y="417.0" width="553.90" height="288.90" fill="none" stroke="#000" stroke-width="1.4"/>
<text x="814.83" y="431.30" font-size="33" font-family='"Liberation Sans", sans-serif' font-weight="normal" font-style="normal" fill="#000" >100</text>
<text x="833.18" y="574.80" font-size="33" font-family='"Liberation Sans", sans-serif' font-weight="normal" font-style="normal" fill="#000" >50</text>
<text x="851.54" y="717.40" font-size="33" font-family='"Liberation Sans", sans-serif' font-weight="normal" font-style="normal" fill="#000" >0</text>
<text transform="translate(790.00,562.55) rotate(-90)" x="-40.27" y="0"><tspan font-size="33.5" font-family='"Liberation Sans", sans-serif' font-style="normal" dy="0">T (%)</tspan></text>
<text x="760.56" y="421.10" font-size="42" font-family='"Liberation Sans", sans-serif' font-weight="bold" font-style="normal" fill="#000" >e</text>
<text x="962.29" y="694.00"><tspan font-size="29" font-family='"Liberation Sans", sans-serif' font-style="normal" dy="0">for </tspan><tspan font-size="29" font-family='"Liberation Sans", sans-serif' font-style="italic" dy="0">h</tspan><tspan font-size="29" font-family='"Liberation Sans", sans-serif' font-style="normal" dy="0"> = 200,</tspan><tspan font-size="29" font-family='"Liberation Sans", sans-serif' font-style="italic" dy="0">R</tspan><tspan font-size="29" font-family='"Liberation Sans", sans-serif' font-style="normal" dy="0"> = 35,</tspan><tspan font-size="29" font-family='"Liberation Sans", sans-serif' font-style="italic" dy="0">g</tspan><tspan font-size="29" font-family='"Liberation Sans", sans-serif' font-style="normal" dy="0"> = 80 (nm)</tspan></text>
<clipPath id="clipf"><rect x="881.9" y="786.2" width="553.90" height="288.80"/></clipPath>
<line x1="988.70" y1="786.20" x2="988.70" y2="1075.00" stroke="#dddddd" stroke-width="1" />
<line x1="1095.20" y1="786.20" x2="1095.20" y2="1075.00" stroke="#dddddd" stroke-width="1" />
<line x1="1201.70" y1="786.20" x2="1201.70" y2="1075.00" stroke="#dddddd" stroke-width="1" />
<line x1="1308.20" y1="786.20" x2="1308.20" y2="1075.00" stroke="#dddddd" stroke-width="1" />
<line x1="1414.70" y1="786.20" x2="1414.70" y2="1075.00" stroke="#dddddd" stroke-width="1" />
<line x1="881.90" y1="931.90" x2="1435.80" y2="931.90" stroke="#dddddd" stroke-width="1" />
<line x1="881.90" y1="788.80" x2="1435.80" y2="788.80" stroke="#dddddd" stroke-width="1" />
<g clip-path="url(#clipf)">
<polyline points="882.20,829.47 884.33,829.47 886.46,829.47 888.59,829.47 890.72,829.47 892.85,829.48 894.98,829.49 897.11,829.49 899.24,829.50 901.37,829.51 903.50,829.52 905.63,829.53 907.76,829.54 909.89,829.56 912.02,829.57 914.15,829.59 916.28,829.61 918.41,829.62 920.54,829.64 922.67,829.66 924.80,829.69 926.93,829.71 929.06,829.73 931.19,829.76 933.32,829.78 935.45,829.81 937.58,829.84 939.71,829.87 941.84,829.90 943.97,829.93 946.10,829.96 948.23,830.00 950.36,830.03 952.49,830.07 954.62,830.11 956.75,830.15 958.88,830.18 961.01,830.23 963.14,830.27 965.27,830.31 967.40,830.36 969.53,830.40 971.66,830.45 973.79,830.50 975.92,830.55 978.05,830.60 980.18,830.65 982.31,830.70 984.44,830.76 986.57,830.81 988.70,830.87 990.83,830.93 992.96,830.99 995.09,831.05 997.22,831.11 999.35,831.17 1001.48,831.24 1003.61,831.31 1005.74,831.37 1007.87,831.44 1010.00,831.51 1012.13,831.58 1014.26,831.66 1016.39,831.73 1018.52,831.81 1020.65,831.88 1022.78,831.96 1024.91,832.04 1027.04,832.12 1029.17,832.21 1031.30,832.29 1033.43,832.38 1035.56,832.46 1037.69,832.55 1039.82,832.64 1041.95,832.73 1044.08,832.83 1046.21,832.92 1048.34,833.02 1050.47,833.11 1052.60,833.21 1054.73,833.32 1056.86,833.42 1058.99,833.52 1061.12,833.63 1063.25,833.74 1065.38,833.84 1067.51,833.96 1069.64,834.07 1071.77,834.18 1073.90,834.30 1076.03,834.42 1078.16,834.54 1080.29,834.66 1082.42,834.78 1084.55,834.91 1086.68,835.03 1088.81,835.16 1090.94,835.29 1093.07,835.43 1095.20,835.56 1097.33,835.70 1099.46,835.84 1101.59,835.98 1103.72,836.12 1105.85,836.26 1107.98,836.41 1110.11,836.56 1112.24,836.71 1114.37,836.86 1116.50,837.02 1118.63,837.18 1120.76,837.34 1122.89,837.50 1125.02,837.66 1127.15,837.83 1129.28,838.00 1131.41,838.17 1133.54,838.35 1135.67,838.52 1137.80,838.70 1139.93,838.88 1142.06,839.07 1144.19,839.25 1146.32,839.44 1148.45,839.63 1150.58,839.83 1152.71,840.03 1154.84,840.23 1156.97,840.43 1159.10,840.64 1161.23,840.84 1163.36,841.06 1165.49,841.27 1167.62,841.49 1169.75,841.71 1171.88,841.93 1174.01,842.16 1176.14,842.39 1178.27,842.63 1180.40,842.86 1182.53,843.10 1184.66,843.35 1186.79,843.59 1188.92,843.85 1191.05,844.10 1193.18,844.36 1195.31,844.62 1197.44,844.89 1199.57,845.16 1201.70,845.43 1203.83,845.71 1205.96,845.99 1208.09,846.28 1210.22,846.57 1212.35,846.86 1214.48,847.16 1216.61,847.46 1218.74,847.77 1220.87,848.08 1223.00,848.40 1225.13,848.72 1227.26,849.05 1229.39,849.38 1231.52,849.72 1233.65,850.06 1235.78,850.41 1237.91,850.76 1240.04,851.12 1242.17,851.48 1244.30,851.85 1246.43,852.23 1248.56,852.61 1250.69,853.00 1252.82,853.39 1254.95,853.79 1257.08,854.20 1259.21,854.61 1261.34,855.03 1263.47,855.46 1265.60,855.89 1267.73,856.34 1269.86,856.78 1271.99,857.24 1274.12,857.71 1276.25,858.18 1278.38,858.66 1280.51,859.15 1282.64,859.64 1284.77,860.15 1286.90,860.67 1289.03,861.19 1291.16,861.72 1293.29,862.27 1295.42,862.82 1297.55,863.39 1299.68,863.96 1301.81,864.54 1303.94,865.14 1306.07,865.75 1308.20,866.37 1310.33,867.00 1312.46,867.64 1314.59,868.30 1316.72,868.97 1318.85,869.65 1320.98,870.35 1323.11,871.06 1325.24,871.79 1327.37,872.53 1329.50,873.28 1331.63,874.06 1333.76,874.85 1335.89,875.65 1338.02,876.48 1340.15,877.32 1342.28,878.19 1344.41,879.07 1346.54,879.97 1348.67,880.90 1350.80,881.85 1352.93,882.82 1355.06,883.81 1357.19,884.83 1359.32,885.88 1361.45,886.95 1363.58,888.05 1365.71,889.18 1367.84,890.34 1369.97,891.53 1372.10,892.76 1374.23,894.02 1376.36,895.31 1378.49,896.65 1380.62,898.02 1382.75,899.44 1384.88,900.91 1387.01,902.41 1389.14,903.97 1391.27,905.59 1393.40,907.25 1395.53,908.98 1397.66,910.77 1399.79,912.63 1401.92,914.55 1404.05,916.56 1406.18,918.64 1408.31,920.81 1410.44,923.08 1412.57,925.45 1414.70,927.93 1416.83,930.53 1418.96,933.26 1421.09,936.14 1423.22,939.18 1425.35,942.40 1427.48,945.82 1429.61,949.46 1431.74,953.36 1433.87,957.55 1436.00,962.09" fill="none" stroke="#ff0000" stroke-width="3.5" stroke-linejoin="round" stroke-linecap="round" stroke-dasharray="0 16.2"/>
<polyline points="882.20,829.47 884.33,829.47 886.46,829.46 888.59,829.46 890.72,829.46 892.85,829.45 894.98,829.45 897.11,829.44 899.24,829.43 901.37,829.42 903.50,829.41 905.63,829.40 907.76,829.39 909.89,829.37 912.02,829.36 914.15,829.34 916.28,829.33 918.41,829.31 920.54,829.29 922.67,829.27 924.80,829.25 926.93,829.22 929.06,829.20 931.19,829.18 933.32,829.15 935.45,829.12 937.58,829.09 939.71,829.07 941.84,829.03 943.97,829.00 946.10,828.97 948.23,828.94 950.36,828.90 952.49,828.87 954.62,828.83 956.75,828.79 958.88,828.75 961.01,828.71 963.14,828.67 965.27,828.63 967.40,828.58 969.53,828.54 971.66,828.49 973.79,828.44 975.92,828.39 978.05,828.34 980.18,828.29 982.31,828.24 984.44,828.19 986.57,828.13 988.70,828.08 990.83,828.02 992.96,827.96 995.09,827.90 997.22,827.84 999.35,827.78 1001.48,827.72 1003.61,827.65 1005.74,827.59 1007.87,827.52 1010.00,827.45 1012.13,827.38 1014.26,827.31 1016.39,827.24 1018.52,827.17 1020.65,827.10 1022.78,827.02 1024.91,826.94 1027.04,826.87 1029.17,826.79 1031.30,826.71 1033.43,826.62 1035.56,826.54 1037.69,826.46 1039.82,826.37 1041.95,826.28 1044.08,826.20 1046.21,826.11 1048.34,826.02 1050.47,825.92 1052.60,825.83 1054.73,825.73 1056.86,825.64 1058.99,825.54 1061.12,825.44 1063.25,825.34 1065.38,825.24 1067.51,825.14 1069.64,825.03 1071.77,824.93 1073.90,824.82 1076.03,824.71 1078.16,824.60 1080.29,824.49 1082.42,824.37 1084.55,824.26 1086.68,824.14 1088.81,824.02 1090.94,823.91 1093.07,823.78 1095.20,823.66 1097.33,823.54 1099.46,823.41 1101.59,823.29 1103.72,823.16 1105.85,823.03 1107.98,822.90 1110.11,822.76 1112.24,822.63 1114.37,822.49 1116.50,822.36 1118.63,822.22 1120.76,822.07 1122.89,821.93 1125.02,821.79 1127.15,821.64 1129.28,821.49 1131.41,821.34 1133.54,821.19 1135.67,821.04 1137.80,820.89 1139.93,820.73 1142.06,820.57 1144.19,820.41 1146.32,820.25 1148.45,820.09 1150.58,819.92 1152.71,819.75 1154.84,819.59 1156.97,819.42 1159.10,819.24 1161.23,819.07 1163.36,818.89 1165.49,818.71 1167.62,818.53 1169.75,818.35 1171.88,818.17 1174.01,817.98 1176.14,817.79 1178.27,817.60 1180.40,817.41 1182.53,817.22 1184.66,817.02 1186.79,816.83 1188.92,816.63 1191.05,816.42 1193.18,816.22 1195.31,816.01 1197.44,815.81 1199.57,815.60 1201.70,815.38 1203.83,815.17 1205.96,814.95 1208.09,814.73 1210.22,814.51 1212.35,814.29 1214.48,814.06 1216.61,813.83 1218.74,813.60 1220.87,813.37 1223.00,813.14 1225.13,812.90 1227.26,812.66 1229.39,812.42 1231.52,812.17 1233.65,811.93 1235.78,811.68 1237.91,811.43 1240.04,811.17 1242.17,810.92 1244.30,810.66 1246.43,810.40 1248.56,810.13 1250.69,809.87 1252.82,809.60 1254.95,809.33 1257.08,809.05 1259.21,808.78 1261.34,808.50 1263.47,808.22 1265.60,807.93 1267.73,807.65 1269.86,807.36 1271.99,807.07 1274.12,806.77 1276.25,806.48 1278.38,806.18 1280.51,805.88 1282.64,805.57 1284.77,805.26 1286.90,804.96 1289.03,804.64 1291.16,804.33 1293.29,804.01 1295.42,803.69 1297.55,803.37 1299.68,803.05 1301.81,802.72 1303.94,802.39 1306.07,802.06 1308.20,801.73 1310.33,801.39 1312.46,801.06 1314.59,800.72 1316.72,800.37 1318.85,800.03 1320.98,799.69 1323.11,799.34 1325.24,798.99 1327.37,798.64 1329.50,798.29 1331.63,797.94 1333.76,797.58 1335.89,797.23 1338.02,796.88 1340.15,796.52 1342.28,796.17 1344.41,795.81 1346.54,795.46 1348.67,795.10 1350.80,794.75 1352.93,794.40 1355.06,794.05 1357.19,793.70 1359.32,793.36 1361.45,793.02 1363.58,792.69 1365.71,792.35 1367.84,792.03 1369.97,791.71 1372.10,791.40 1374.23,791.10 1376.36,790.81 1378.49,790.53 1380.62,790.26 1382.75,790.01 1384.88,789.77 1387.01,789.56 1389.14,789.36 1391.27,789.19 1393.40,789.04 1395.53,788.93 1397.66,788.85 1399.79,788.80 1401.92,788.81 1404.05,788.86 1406.18,788.97 1408.31,789.14 1410.44,789.39 1412.57,789.72 1414.70,790.15 1416.83,790.70 1418.96,791.37 1421.09,792.20 1423.22,793.22 1425.35,794.44 1427.48,795.92 1429.61,797.70 1431.74,799.86 1433.87,802.47 1436.00,805.66" fill="none" stroke="#0000ff" stroke-width="3.5" stroke-linejoin="round" stroke-linecap="round" stroke-dasharray="0 16.2"/>
<polyline points="882.20,829.47 884.33,829.47 886.46,829.47 888.59,829.47 890.72,829.47 892.85,829.47 894.98,829.47 897.11,829.47 899.24,829.47 901.37,829.47 903.50,829.47 905.63,829.47 907.76,829.47 909.89,829.47 912.02,829.47 914.15,829.47 916.28,829.47 918.41,829.47 920.54,829.47 922.67,829.47 924.80,829.47 926.93,829.47 929.06,829.47 931.19,829.47 933.32,829.47 935.45,829.47 937.58,829.47 939.71,829.47 941.84,829.47 943.97,829.47 946.10,829.47 948.23,829.47 950.36,829.47 952.49,829.47 954.62,829.47 956.75,829.47 958.88,829.47 961.01,829.47 963.14,829.47 965.27,829.47 967.40,829.47 969.53,829.47 971.66,829.47 973.79,829.47 975.92,829.47 978.05,829.47 980.18,829.47 982.31,829.47 984.44,829.47 986.57,829.47 988.70,829.47 990.83,829.47 992.96,829.48 995.09,829.48 997.22,829.48 999.35,829.48 1001.48,829.48 1003.61,829.48 1005.74,829.48 1007.87,829.48 1010.00,829.48 1012.13,829.48 1014.26,829.49 1016.39,829.49 1018.52,829.49 1020.65,829.49 1022.78,829.49 1024.91,829.49 1027.04,829.49 1029.17,829.50 1031.30,829.50 1033.43,829.50 1035.56,829.50 1037.69,829.50 1039.82,829.51 1041.95,829.51 1044.08,829.51 1046.21,829.51 1048.34,829.52 1050.47,829.52 1052.60,829.52 1054.73,829.53 1056.86,829.53 1058.99,829.53 1061.12,829.53 1063.25,829.54 1065.38,829.54 1067.51,829.55 1069.64,829.55 1071.77,829.55 1073.90,829.56 1076.03,829.56 1078.16,829.57 1080.29,829.57 1082.42,829.58 1084.55,829.58 1086.68,829.59 1088.81,829.59 1090.94,829.60 1093.07,829.61 1095.20,829.61 1097.33,829.62 1099.46,829.62 1101.59,829.63 1103.72,829.64 1105.85,829.65 1107.98,829.65 1110.11,829.66 1112.24,829.67 1114.37,829.68 1116.50,829.69 1118.63,829.70 1120.76,829.71 1122.89,829.72 1125.02,829.73 1127.15,829.74 1129.28,829.75 1131.41,829.76 1133.54,829.77 1135.67,829.78 1137.80,829.79 1139.93,829.81 1142.06,829.82 1144.19,829.83 1146.32,829.85 1148.45,829.86 1150.58,829.88 1152.71,829.89 1154.84,829.91 1156.97,829.92 1159.10,829.94 1161.23,829.96 1163.36,829.97 1165.49,829.99 1167.62,830.01 1169.75,830.03 1171.88,830.05 1174.01,830.07 1176.14,830.09 1178.27,830.12 1180.40,830.14 1182.53,830.16 1184.66,830.19 1186.79,830.21 1188.92,830.24 1191.05,830.26 1193.18,830.29 1195.31,830.32 1197.44,830.35 1199.57,830.38 1201.70,830.41 1203.83,830.44 1205.96,830.47 1208.09,830.50 1210.22,830.54 1212.35,830.57 1214.48,830.61 1216.61,830.65 1218.74,830.69 1220.87,830.73 1223.00,830.77 1225.13,830.81 1227.26,830.85 1229.39,830.90 1231.52,830.95 1233.65,830.99 1235.78,831.04 1237.91,831.09 1240.04,831.15 1242.17,831.20 1244.30,831.25 1246.43,831.31 1248.56,831.37 1250.69,831.43 1252.82,831.49 1254.95,831.56 1257.08,831.63 1259.21,831.69 1261.34,831.77 1263.47,831.84 1265.60,831.91 1267.73,831.99 1269.86,832.07 1271.99,832.15 1274.12,832.24 1276.25,832.33 1278.38,832.42 1280.51,832.51 1282.64,832.61 1284.77,832.71 1286.90,832.81 1289.03,832.92 1291.16,833.03 1293.29,833.14 1295.42,833.26 1297.55,833.38 1299.68,833.50 1301.81,833.63 1303.94,833.77 1306.07,833.90 1308.20,834.05 1310.33,834.20 1312.46,834.35 1314.59,834.51 1316.72,834.67 1318.85,834.84 1320.98,835.02 1323.11,835.20 1325.24,835.39 1327.37,835.58 1329.50,835.79 1331.63,836.00 1333.76,836.22 1335.89,836.44 1338.02,836.68 1340.15,836.92 1342.28,837.18 1344.41,837.44 1346.54,837.72 1348.67,838.00 1350.80,838.30 1352.93,838.61 1355.06,838.93 1357.19,839.27 1359.32,839.62 1361.45,839.98 1363.58,840.37 1365.71,840.77 1367.84,841.18 1369.97,841.62 1372.10,842.08 1374.23,842.56 1376.36,843.06 1378.49,843.59 1380.62,844.14 1382.75,844.73 1384.88,845.34 1387.01,845.99 1389.14,846.67 1391.27,847.39 1393.40,848.15 1395.53,848.95 1397.66,849.81 1399.79,850.72 1401.92,851.68 1404.05,852.71 1406.18,853.80 1408.31,854.98 1410.44,856.23 1412.57,857.59 1414.70,859.04 1416.83,860.61 1418.96,862.32 1421.09,864.17 1423.22,866.20 1425.35,868.42 1427.48,870.87 1429.61,873.58 1431.74,876.61 1433.87,880.01 1436.00,883.87" fill="none" stroke="#ff8000" stroke-width="4.6" stroke-linejoin="round" stroke-linecap="round" stroke-dasharray="0 20.8"/>
<polyline points="882.20,792.98 903.50,792.98 924.80,793.01 946.10,793.04 967.40,793.09 988.70,793.18 1010.00,793.29 1031.30,793.41 1052.60,793.58 1073.90,793.81 1095.20,794.09 1116.50,794.35 1137.80,794.67 1159.10,795.10 1180.40,795.50 1201.70,795.81 1223.00,796.41 1244.30,797.30 1265.60,798.53 1286.90,800.25 1308.20,803.11 1329.50,806.54 1350.80,811.12 1372.10,817.42 1393.40,828.01 1414.70,846.04 1436.00,881.82" fill="none" stroke="#ff0000" stroke-width="3.0" stroke-linejoin="round" />
<polyline points="882.20,792.98 903.50,792.98 924.80,793.01 946.10,793.04 967.40,793.09 988.70,793.18 1010.00,793.29 1031.30,793.41 1052.60,793.58 1073.90,793.81 1095.20,794.09 1116.50,794.35 1137.80,794.67 1159.10,795.10 1180.40,795.50 1201.70,795.81 1223.00,796.41 1244.30,797.30 1265.60,798.10 1286.90,799.39 1308.20,800.25 1329.50,801.68 1350.80,802.82 1372.10,804.54 1393.40,808.40 1414.70,816.42 1436.00,840.60" fill="none" stroke="#0000ff" stroke-width="3.0" stroke-linejoin="round" />
<polyline points="882.20,792.98 903.50,792.98 924.80,793.01 946.10,793.04 967.40,793.09 988.70,793.18 1010.00,793.29 1031.30,793.41 1052.60,793.58 1073.90,793.81 1095.20,794.09 1116.50,794.35 1137.80,794.67 1159.10,795.10 1180.40,795.50 1201.70,795.81 1223.00,796.41 1244.30,797.30 1265.60,798.32 1286.90,799.82 1308.20,801.68 1329.50,804.11 1350.80,806.97 1372.10,810.98 1393.40,818.21 1414.70,831.23 1436.00,861.21" fill="none" stroke="#ff8000" stroke-width="4.5" stroke-linejoin="round" />
</g>
<rect x="881.9" y="786.2" width="553.90" height="288.80" fill="none" stroke="#000" stroke-width="1.4"/>
<text x="814.83" y="802.20" font-size="33" font-family='"Liberation Sans", sans-serif' font-weight="normal" font-style="normal" fill="#000" >100</text>
<text x="833.18" y="945.60" font-size="33" font-family='"Liberation Sans", sans-serif' font-weight="normal" font-style="normal" fill="#000" >50</text>
<text x="851.54" y="1088.40" font-size="33" font-family='"Liberation Sans", sans-serif' font-weight="normal" font-style="normal" fill="#000" >0</text>
<text transform="translate(790.00,931.70) rotate(-90)" x="-40.27" y="0"><tspan font-size="33.5" font-family='"Liberation Sans", sans-serif' font-style="normal" dy="0">T (%)</tspan></text>
<text x="761.08" y="792.90" font-size="42" font-family='"Liberation Sans", sans-serif' font-weight="bold" font-style="normal" fill="#000" >f</text>
<text x="962.29" y="1065.30"><tspan font-size="29" font-family='"Liberation Sans", sans-serif' font-style="normal" dy="0">for </tspan><tspan font-size="29" font-family='"Liberation Sans", sans-serif' font-style="italic" dy="0">h</tspan><tspan font-size="29" font-family='"Liberation Sans", sans-serif' font-style="normal" dy="0"> = 216,</tspan><tspan font-size="29" font-family='"Liberation Sans", sans-serif' font-style="italic" dy="0">R</tspan><tspan font-size="29" font-family='"Liberation Sans", sans-serif' font-style="normal" dy="0"> = 20,</tspan><tspan font-size="29" font-family='"Liberation Sans", sans-serif' font-style="italic" dy="0">g</tspan><tspan font-size="29" font-family='"Liberation Sans", sans-serif' font-style="normal" dy="0"> = 30 (nm)</tspan></text>
<clipPath id="clipg"><rect x="881.9" y="1155.4" width="553.90" height="242.10"/></clipPath>
<line x1="988.70" y1="1155.40" x2="988.70" y2="1397.50" stroke="#dddddd" stroke-width="1" />
<line x1="1095.20" y1="1155.40" x2="1095.20" y2="1397.50" stroke="#dddddd" stroke-width="1" />
<line x1="1201.70" y1="1155.40" x2="1201.70" y2="1397.50" stroke="#dddddd" stroke-width="1" />
<line x1="1308.20" y1="1155.40" x2="1308.20" y2="1397.50" stroke="#dddddd" stroke-width="1" />
<line x1="1414.70" y1="1155.40" x2="1414.70" y2="1397.50" stroke="#dddddd" stroke-width="1" />
<line x1="881.90" y1="1318.50" x2="1435.80" y2="1318.50" stroke="#dddddd" stroke-width="1" />
<line x1="881.90" y1="1158.70" x2="1435.80" y2="1158.70" stroke="#dddddd" stroke-width="1" />
<g clip-path="url(#clipg)">
<polyline points="882.20,1204.11 884.33,1204.11 886.46,1204.11 888.59,1204.11 890.72,1204.11 892.85,1204.11 894.98,1204.11 897.11,1204.11 899.24,1204.11 901.37,1204.11 903.50,1204.11 905.63,1204.11 907.76,1204.11 909.89,1204.11 912.02,1204.11 914.15,1204.11 916.28,1204.11 918.41,1204.11 920.54,1204.11 922.67,1204.11 924.80,1204.11 926.93,1204.11 929.06,1204.11 931.19,1204.11 933.32,1204.11 935.45,1204.11 937.58,1204.11 939.71,1204.11 941.84,1204.11 943.97,1204.11 946.10,1204.11 948.23,1204.11 950.36,1204.11 952.49,1204.11 954.62,1204.11 956.75,1204.11 958.88,1204.11 961.01,1204.11 963.14,1204.11 965.27,1204.11 967.40,1204.12 969.53,1204.12 971.66,1204.12 973.79,1204.12 975.92,1204.12 978.05,1204.12 980.18,1204.12 982.31,1204.12 984.44,1204.12 986.57,1204.12 988.70,1204.12 990.83,1204.12 992.96,1204.12 995.09,1204.12 997.22,1204.12 999.35,1204.12 1001.48,1204.13 1003.61,1204.13 1005.74,1204.13 1007.87,1204.13 1010.00,1204.13 1012.13,1204.13 1014.26,1204.13 1016.39,1204.13 1018.52,1204.14 1020.65,1204.14 1022.78,1204.14 1024.91,1204.14 1027.04,1204.14 1029.17,1204.15 1031.30,1204.15 1033.43,1204.15 1035.56,1204.15 1037.69,1204.15 1039.82,1204.16 1041.95,1204.16 1044.08,1204.16 1046.21,1204.16 1048.34,1204.17 1050.47,1204.17 1052.60,1204.17 1054.73,1204.18 1056.86,1204.18 1058.99,1204.18 1061.12,1204.19 1063.25,1204.19 1065.38,1204.20 1067.51,1204.20 1069.64,1204.21 1071.77,1204.21 1073.90,1204.21 1076.03,1204.22 1078.16,1204.23 1080.29,1204.23 1082.42,1204.24 1084.55,1204.24 1086.68,1204.25 1088.81,1204.25 1090.94,1204.26 1093.07,1204.27 1095.20,1204.27 1097.33,1204.28 1099.46,1204.29 1101.59,1204.30 1103.72,1204.30 1105.85,1204.31 1107.98,1204.32 1110.11,1204.33 1112.24,1204.34 1114.37,1204.35 1116.50,1204.36 1118.63,1204.37 1120.76,1204.38 1122.89,1204.39 1125.02,1204.40 1127.15,1204.41 1129.28,1204.43 1131.41,1204.44 1133.54,1204.45 1135.67,1204.46 1137.80,1204.48 1139.93,1204.49 1142.06,1204.51 1144.19,1204.52 1146.32,1204.54 1148.45,1204.55 1150.58,1204.57 1152.71,1204.59 1154.84,1204.60 1156.97,1204.62 1159.10,1204.64 1161.23,1204.66 1163.36,1204.68 1165.49,1204.70 1167.62,1204.72 1169.75,1204.74 1171.88,1204.77 1174.01,1204.79 1176.14,1204.81 1178.27,1204.84 1180.40,1204.86 1182.53,1204.89 1184.66,1204.92 1186.79,1204.94 1188.92,1204.97 1191.05,1205.00 1193.18,1205.03 1195.31,1205.06 1197.44,1205.09 1199.57,1205.13 1201.70,1205.16 1203.83,1205.20 1205.96,1205.23 1208.09,1205.27 1210.22,1205.31 1212.35,1205.35 1214.48,1205.39 1216.61,1205.43 1218.74,1205.47 1220.87,1205.52 1223.00,1205.57 1225.13,1205.61 1227.26,1205.66 1229.39,1205.71 1231.52,1205.76 1233.65,1205.82 1235.78,1205.87 1237.91,1205.93 1240.04,1205.99 1242.17,1206.05 1244.30,1206.11 1246.43,1206.17 1248.56,1206.24 1250.69,1206.31 1252.82,1206.38 1254.95,1206.45 1257.08,1206.52 1259.21,1206.60 1261.34,1206.68 1263.47,1206.76 1265.60,1206.84 1267.73,1206.93 1269.86,1207.02 1271.99,1207.11 1274.12,1207.21 1276.25,1207.31 1278.38,1207.41 1280.51,1207.51 1282.64,1207.62 1284.77,1207.73 1286.90,1207.85 1289.03,1207.97 1291.16,1208.09 1293.29,1208.21 1295.42,1208.35 1297.55,1208.48 1299.68,1208.62 1301.81,1208.76 1303.94,1208.91 1306.07,1209.07 1308.20,1209.23 1310.33,1209.39 1312.46,1209.56 1314.59,1209.74 1316.72,1209.92 1318.85,1210.11 1320.98,1210.31 1323.11,1210.51 1325.24,1210.72 1327.37,1210.94 1329.50,1211.17 1331.63,1211.41 1333.76,1211.65 1335.89,1211.90 1338.02,1212.17 1340.15,1212.44 1342.28,1212.72 1344.41,1213.02 1346.54,1213.32 1348.67,1213.64 1350.80,1213.97 1352.93,1214.32 1355.06,1214.68 1357.19,1215.06 1359.32,1215.45 1361.45,1215.86 1363.58,1216.28 1365.71,1216.73 1367.84,1217.20 1369.97,1217.69 1372.10,1218.20 1374.23,1218.73 1376.36,1219.29 1378.49,1219.88 1380.62,1220.50 1382.75,1221.15 1384.88,1221.84 1387.01,1222.56 1389.14,1223.32 1391.27,1224.12 1393.40,1224.97 1395.53,1225.87 1397.66,1226.83 1399.79,1227.84 1401.92,1228.92 1404.05,1230.07 1406.18,1231.29 1408.31,1232.60 1410.44,1234.00 1412.57,1235.51 1414.70,1237.14 1416.83,1238.90 1418.96,1240.80 1421.09,1242.87 1423.22,1245.13 1425.35,1247.61 1427.48,1250.35 1429.61,1253.38 1431.74,1256.76 1433.87,1260.56 1436.00,1264.87" fill="none" stroke="#000" stroke-width="3.5" stroke-linejoin="round" stroke-linecap="round" stroke-dasharray="0 16.1"/>
<polyline points="882.20,1162.66 903.50,1162.68 924.80,1162.73 946.10,1162.84 967.40,1163.01 988.70,1163.65 1010.00,1164.93 1031.30,1166.93 1052.60,1169.97 1073.90,1173.94 1095.20,1178.93 1116.50,1184.96 1137.80,1192.42 1159.10,1201.05 1180.40,1211.43 1201.70,1223.34 1223.00,1234.84 1244.30,1245.55 1265.60,1254.58 1286.90,1262.25 1308.20,1268.96 1329.50,1274.56 1350.80,1280.55 1372.10,1291.97 1393.40,1311.95 1414.70,1343.43 1436.00,1384.18" fill="none" stroke="#ff0000" stroke-width="2.9" stroke-linejoin="round" />
<polyline points="882.20,1163.37 903.50,1163.37 924.80,1163.40 946.10,1163.43 967.40,1163.49 988.70,1163.59 1010.00,1163.72 1031.30,1163.85 1052.60,1164.04 1073.90,1164.29 1095.20,1164.61 1116.50,1164.90 1137.80,1165.25 1159.10,1165.73 1180.40,1166.18 1201.70,1166.53 1223.00,1167.20 1244.30,1168.19 1265.60,1169.33 1286.90,1171.00 1308.20,1173.08 1329.50,1175.80 1350.80,1178.99 1372.10,1183.47 1393.40,1191.54 1414.70,1206.08 1436.00,1239.56" fill="none" stroke="#00ff00" stroke-width="2.5" stroke-linejoin="round" />
<polyline points="882.20,1162.85 903.50,1162.85 924.80,1162.89 946.10,1162.92 967.40,1162.98 988.70,1163.11 1010.00,1163.24 1031.30,1163.43 1052.60,1163.65 1073.90,1163.94 1095.20,1164.29 1116.50,1164.71 1137.80,1165.16 1159.10,1165.73 1180.40,1166.53 1201.70,1167.20 1223.00,1167.97 1244.30,1169.25 1265.60,1170.53 1286.90,1172.57 1308.20,1175.13 1329.50,1178.52 1350.80,1183.18 1372.10,1190.12 1393.40,1199.93 1414.70,1218.62 1436.00,1255.54" fill="none" stroke="#0000ff" stroke-width="2.8" stroke-linejoin="round" stroke-dasharray="13.3 25"/>
</g>
<rect x="881.9" y="1155.4" width="553.90" height="242.10" fill="none" stroke="#000" stroke-width="1.4"/>
<text x="814.83" y="1167.80" font-size="33" font-family='"Liberation Sans", sans-serif' font-weight="normal" font-style="normal" fill="#000" >100</text>
<text x="833.18" y="1330.40" font-size="33" font-family='"Liberation Sans", sans-serif' font-weight="normal" font-style="normal" fill="#000" >50</text>
<text x="873.02" y="1434.80" font-size="33" font-family='"Liberation Sans", sans-serif' font-weight="normal" font-style="normal" fill="#000" >0</text>
<text x="979.56" y="1434.80" font-size="33" font-family='"Liberation Sans", sans-serif' font-weight="normal" font-style="normal" fill="#000" >5</text>
<text x="1076.23" y="1434.80" font-size="33" font-family='"Liberation Sans", sans-serif' font-weight="normal" font-style="normal" fill="#000" >10</text>
<text x="1182.78" y="1434.80" font-size="33" font-family='"Liberation Sans", sans-serif' font-weight="normal" font-style="normal" fill="#000" >15</text>
<text x="1289.66" y="1434.80" font-size="33" font-family='"Liberation Sans", sans-serif' font-weight="normal" font-style="normal" fill="#000" >20</text>
<text x="1396.21" y="1434.80" font-size="33" font-family='"Liberation Sans", sans-serif' font-weight="normal" font-style="normal" fill="#000" >25</text>
<text transform="translate(790.00,1276.00) rotate(-90)" x="-40.27" y="0"><tspan font-size="33.5" font-family='"Liberation Sans", sans-serif' font-style="normal" dy="0">T (%)</tspan></text>
<text x="1036.49" y="1479.00" font-size="33" font-family='"Liberation Sans", sans-serif' font-weight="normal" font-style="normal" fill="#000" >incident angle</text>
<text x="1250.05" y="1479.00" font-size="33" font-family='"Liberation Serif", serif' font-weight="normal" font-style="normal" fill="#000" >θ</text>
<text x="1267.73" y="1479.00" font-size="33" font-family='"Liberation Sans", sans-serif' font-weight="normal" font-style="normal" fill="#000" >°</text>
<text x="894.54" y="1235.10" font-size="29" font-family='"Liberation Sans", sans-serif' font-weight="normal" font-style="normal" fill="#000" >without NP</text>
<text x="1035.82" y="1386.70" font-size="29" font-family='"Liberation Sans", sans-serif' font-weight="normal" font-style="normal" fill="#000" >unpolarized light</text>
<text x="1231.13" y="1282.80" font-size="28.5" font-family='"Liberation Sans", sans-serif' font-weight="normal" font-style="normal" fill="#000" >(1)</text>
<text x="1308.23" y="1250.40" font-size="28.5" font-family='"Liberation Sans", sans-serif' font-weight="normal" font-style="normal" fill="#000" >(2)</text>
<text x="1390.53" y="1184.80" font-size="28.5" font-family='"Liberation Sans", sans-serif' font-weight="normal" font-style="normal" fill="#000" >(3)</text>
<line x1="1344.10" y1="1240.00" x2="1370.79" y2="1206.04" stroke="#000" stroke-width="1.3" />
<polygon points="1378.20,1196.60 1372.71,1211.36 1371.40,1205.25 1365.16,1205.43" fill="#000"/>
<text x="761.28" y="1152.80" font-size="42" font-family='"Liberation Sans", sans-serif' font-weight="bold" font-style="normal" fill="#000" >g</text>
</svg>
</body></html>
